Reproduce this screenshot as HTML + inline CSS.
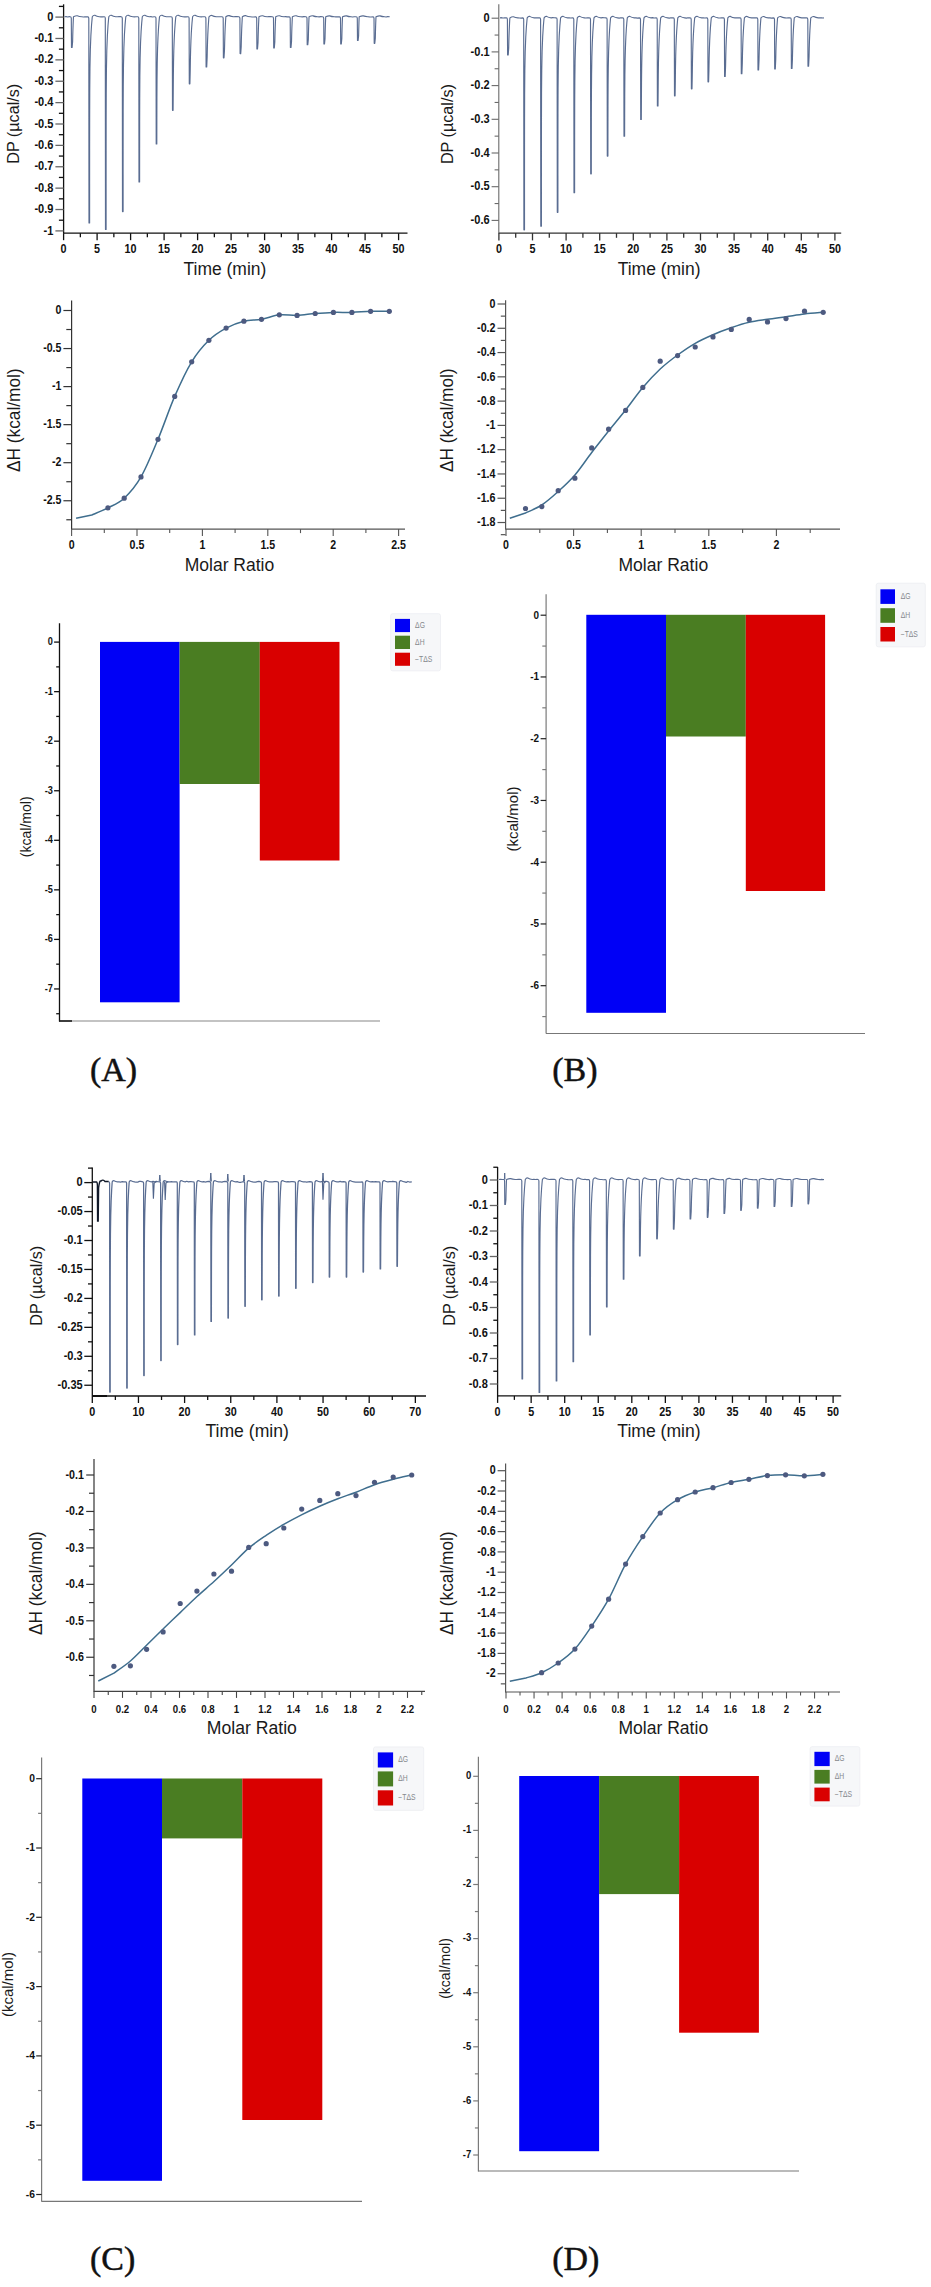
<!DOCTYPE html>
<html><head><meta charset="utf-8"><title>ITC thermodynamic profiles</title>
<style>
html,body{margin:0;padding:0;background:#fff;}
body{width:931px;height:2287px;overflow:hidden;font-family:"Liberation Sans", sans-serif;}
svg{display:block;}
svg text{font-family:"Liberation Sans", sans-serif;}
</style></head>
<body>
<svg width="931" height="2287" viewBox="0 0 931 2287">
<rect width="931" height="2287" fill="#ffffff"/>
<g>
<line x1="63.6" y1="4.3" x2="63.6" y2="233.5" stroke="#111" stroke-width="1.3"/>
<line x1="55.4" y1="17.1" x2="63.6" y2="17.1" stroke="#666" stroke-width="1.3"/>
<text transform="translate(53.4,20.7) scale(0.92,1)" text-anchor="end" font-size="12" font-weight="bold" fill="#111">0</text>
<line x1="55.4" y1="38.48" x2="63.6" y2="38.48" stroke="#666" stroke-width="1.3"/>
<text transform="translate(53.4,42.08) scale(0.92,1)" text-anchor="end" font-size="12" font-weight="bold" fill="#111">-0.1</text>
<line x1="55.4" y1="59.86" x2="63.6" y2="59.86" stroke="#666" stroke-width="1.3"/>
<text transform="translate(53.4,63.46) scale(0.92,1)" text-anchor="end" font-size="12" font-weight="bold" fill="#111">-0.2</text>
<line x1="55.4" y1="81.24" x2="63.6" y2="81.24" stroke="#666" stroke-width="1.3"/>
<text transform="translate(53.4,84.84) scale(0.92,1)" text-anchor="end" font-size="12" font-weight="bold" fill="#111">-0.3</text>
<line x1="55.4" y1="102.62" x2="63.6" y2="102.62" stroke="#666" stroke-width="1.3"/>
<text transform="translate(53.4,106.22) scale(0.92,1)" text-anchor="end" font-size="12" font-weight="bold" fill="#111">-0.4</text>
<line x1="55.4" y1="124" x2="63.6" y2="124" stroke="#666" stroke-width="1.3"/>
<text transform="translate(53.4,127.6) scale(0.92,1)" text-anchor="end" font-size="12" font-weight="bold" fill="#111">-0.5</text>
<line x1="55.4" y1="145.38" x2="63.6" y2="145.38" stroke="#666" stroke-width="1.3"/>
<text transform="translate(53.4,148.98) scale(0.92,1)" text-anchor="end" font-size="12" font-weight="bold" fill="#111">-0.6</text>
<line x1="55.4" y1="166.76" x2="63.6" y2="166.76" stroke="#666" stroke-width="1.3"/>
<text transform="translate(53.4,170.36) scale(0.92,1)" text-anchor="end" font-size="12" font-weight="bold" fill="#111">-0.7</text>
<line x1="55.4" y1="188.14" x2="63.6" y2="188.14" stroke="#666" stroke-width="1.3"/>
<text transform="translate(53.4,191.74) scale(0.92,1)" text-anchor="end" font-size="12" font-weight="bold" fill="#111">-0.8</text>
<line x1="55.4" y1="209.52" x2="63.6" y2="209.52" stroke="#666" stroke-width="1.3"/>
<text transform="translate(53.4,213.12) scale(0.92,1)" text-anchor="end" font-size="12" font-weight="bold" fill="#111">-0.9</text>
<line x1="55.4" y1="230.9" x2="63.6" y2="230.9" stroke="#666" stroke-width="1.3"/>
<text transform="translate(53.4,234.5) scale(0.92,1)" text-anchor="end" font-size="12" font-weight="bold" fill="#111">-1</text>
<line x1="58.9" y1="6.41" x2="63.6" y2="6.41" stroke="#111" stroke-width="1.3"/>
<line x1="58.9" y1="27.79" x2="63.6" y2="27.79" stroke="#111" stroke-width="1.3"/>
<line x1="58.9" y1="49.17" x2="63.6" y2="49.17" stroke="#111" stroke-width="1.3"/>
<line x1="58.9" y1="70.55" x2="63.6" y2="70.55" stroke="#111" stroke-width="1.3"/>
<line x1="58.9" y1="91.93" x2="63.6" y2="91.93" stroke="#111" stroke-width="1.3"/>
<line x1="58.9" y1="113.31" x2="63.6" y2="113.31" stroke="#111" stroke-width="1.3"/>
<line x1="58.9" y1="134.69" x2="63.6" y2="134.69" stroke="#111" stroke-width="1.3"/>
<line x1="58.9" y1="156.07" x2="63.6" y2="156.07" stroke="#111" stroke-width="1.3"/>
<line x1="58.9" y1="177.45" x2="63.6" y2="177.45" stroke="#111" stroke-width="1.3"/>
<line x1="58.9" y1="198.83" x2="63.6" y2="198.83" stroke="#111" stroke-width="1.3"/>
<line x1="58.9" y1="220.21" x2="63.6" y2="220.21" stroke="#111" stroke-width="1.3"/>
<line x1="63.6" y1="233.2" x2="407.5" y2="233.2" stroke="#111" stroke-width="1.3"/>
<line x1="63.6" y1="233.2" x2="63.6" y2="240.2" stroke="#111" stroke-width="1.3"/>
<text transform="translate(63.6,252.6) scale(0.9,1)" text-anchor="middle" font-size="12" font-weight="bold" fill="#111">0</text>
<line x1="97.1" y1="233.2" x2="97.1" y2="240.2" stroke="#111" stroke-width="1.3"/>
<text transform="translate(97.1,252.6) scale(0.9,1)" text-anchor="middle" font-size="12" font-weight="bold" fill="#111">5</text>
<line x1="130.6" y1="233.2" x2="130.6" y2="240.2" stroke="#111" stroke-width="1.3"/>
<text transform="translate(130.6,252.6) scale(0.9,1)" text-anchor="middle" font-size="12" font-weight="bold" fill="#111">10</text>
<line x1="164.1" y1="233.2" x2="164.1" y2="240.2" stroke="#111" stroke-width="1.3"/>
<text transform="translate(164.1,252.6) scale(0.9,1)" text-anchor="middle" font-size="12" font-weight="bold" fill="#111">15</text>
<line x1="197.6" y1="233.2" x2="197.6" y2="240.2" stroke="#111" stroke-width="1.3"/>
<text transform="translate(197.6,252.6) scale(0.9,1)" text-anchor="middle" font-size="12" font-weight="bold" fill="#111">20</text>
<line x1="231.1" y1="233.2" x2="231.1" y2="240.2" stroke="#111" stroke-width="1.3"/>
<text transform="translate(231.1,252.6) scale(0.9,1)" text-anchor="middle" font-size="12" font-weight="bold" fill="#111">25</text>
<line x1="264.6" y1="233.2" x2="264.6" y2="240.2" stroke="#111" stroke-width="1.3"/>
<text transform="translate(264.6,252.6) scale(0.9,1)" text-anchor="middle" font-size="12" font-weight="bold" fill="#111">30</text>
<line x1="298.1" y1="233.2" x2="298.1" y2="240.2" stroke="#111" stroke-width="1.3"/>
<text transform="translate(298.1,252.6) scale(0.9,1)" text-anchor="middle" font-size="12" font-weight="bold" fill="#111">35</text>
<line x1="331.6" y1="233.2" x2="331.6" y2="240.2" stroke="#111" stroke-width="1.3"/>
<text transform="translate(331.6,252.6) scale(0.9,1)" text-anchor="middle" font-size="12" font-weight="bold" fill="#111">40</text>
<line x1="365.1" y1="233.2" x2="365.1" y2="240.2" stroke="#111" stroke-width="1.3"/>
<text transform="translate(365.1,252.6) scale(0.9,1)" text-anchor="middle" font-size="12" font-weight="bold" fill="#111">45</text>
<line x1="398.6" y1="233.2" x2="398.6" y2="240.2" stroke="#111" stroke-width="1.3"/>
<text transform="translate(398.6,252.6) scale(0.9,1)" text-anchor="middle" font-size="12" font-weight="bold" fill="#111">50</text>
<line x1="80.35" y1="233.2" x2="80.35" y2="237.2" stroke="#111" stroke-width="1.3"/>
<line x1="113.85" y1="233.2" x2="113.85" y2="237.2" stroke="#111" stroke-width="1.3"/>
<line x1="147.35" y1="233.2" x2="147.35" y2="237.2" stroke="#111" stroke-width="1.3"/>
<line x1="180.85" y1="233.2" x2="180.85" y2="237.2" stroke="#111" stroke-width="1.3"/>
<line x1="214.35" y1="233.2" x2="214.35" y2="237.2" stroke="#111" stroke-width="1.3"/>
<line x1="247.85" y1="233.2" x2="247.85" y2="237.2" stroke="#111" stroke-width="1.3"/>
<line x1="281.35" y1="233.2" x2="281.35" y2="237.2" stroke="#111" stroke-width="1.3"/>
<line x1="314.85" y1="233.2" x2="314.85" y2="237.2" stroke="#111" stroke-width="1.3"/>
<line x1="348.35" y1="233.2" x2="348.35" y2="237.2" stroke="#111" stroke-width="1.3"/>
<line x1="381.85" y1="233.2" x2="381.85" y2="237.2" stroke="#111" stroke-width="1.3"/>
<text transform="translate(19.3,123.8) rotate(-90)" text-anchor="middle" font-size="17.2" fill="#1a1a1a" textLength="80" lengthAdjust="spacingAndGlyphs">DP (µcal/s)</text>
<text x="224.9" y="274.7" text-anchor="middle" font-size="18" fill="#1a1a1a" textLength="82.8" lengthAdjust="spacingAndGlyphs">Time (min)</text>
<path d="M64.5,16.8 L66.1,16.69 L67.7,16.95 L69.3,16.68 L70.4,16.8 Q71.2,16.8 71.3,18.4 L71.5,47.4 L72.1,47.4 L72.61,41.59 L72.73,36.38 L72.86,31.79 L72.99,27.82 L73.11,24.45 L73.23,21.7 L73.33,19.55 L73.41,18.02 L73.46,17.11 L73.48,16.8 Q75.9,15.54 77.3,15.79 Q79.3,16.6 81.8,16.8 L83.4,16.97 L85,16.8 L86.6,16.84 L87.9,16.8 Q88.7,16.8 88.8,18.4 L89,223 L89.6,223 L89.6,183.82 L89.61,148.77 L89.65,117.84 L89.74,91.03 L89.94,68.35 L90.32,49.79 L90.89,35.36 L91.54,25.05 L92.09,18.86 L92.3,16.8 Q93.4,14.9 94.8,15.28 Q96.8,16.6 99.3,16.8 L100.9,16.91 L102.5,16.81 L104.4,16.8 Q105.2,16.8 105.3,18.4 L105.5,229.5 L106.1,229.5 L106.1,189.09 L106.11,152.93 L106.14,121.02 L106.23,93.37 L106.42,69.97 L106.79,50.83 L107.36,35.94 L108.02,25.31 L108.58,18.93 L108.8,16.8 Q109.9,14.9 111.3,15.28 Q113.3,16.6 115.8,16.8 L117.4,16.72 L119,16.68 L120.6,16.63 L121.4,16.8 Q122.2,16.8 122.3,18.4 L122.5,211.6 L123.1,211.6 L123.1,174.59 L123.12,141.47 L123.16,112.25 L123.26,86.93 L123.48,65.5 L123.88,47.97 L124.44,34.33 L125.08,24.59 L125.6,18.75 L125.8,16.8 Q126.9,14.9 128.3,15.28 Q130.3,16.6 132.8,16.8 L134.4,16.9 L136,16.78 L137.9,16.8 Q138.7,16.8 138.8,18.4 L139,181.9 L139.6,181.9 L139.61,150.53 L139.64,122.46 L139.71,97.7 L139.85,76.24 L140.12,58.08 L140.54,43.22 L141.09,31.66 L141.67,23.4 L142.13,18.45 L142.3,16.8 Q143.4,14.9 144.8,15.28 Q146.8,16.6 149.3,16.8 L150.9,16.66 L152.5,16.95 L154.1,16.71 L155.1,16.8 Q155.9,16.8 156,18.4 L156.2,144 L156.8,144 L156.84,119.83 L156.9,98.21 L157.02,79.13 L157.23,62.59 L157.56,48.6 L158,37.15 L158.51,28.25 L159,21.89 L159.37,18.07 L159.5,16.8 Q160.6,14.9 162,15.28 Q164,16.6 166.5,16.8 L168.1,16.77 L169.7,16.72 L171.4,16.8 Q172.2,16.8 172.3,18.4 L172.5,110.3 L173.1,110.3 L173.23,92.53 L173.35,76.64 L173.53,62.61 L173.8,50.46 L174.16,40.17 L174.58,31.76 L175.03,25.22 L175.42,20.54 L175.7,17.73 L175.8,16.8 Q176.9,14.9 178.3,15.28 Q180.3,16.6 182.8,16.8 L184.4,16.85 L186,16.83 L188.2,16.8 Q189,16.8 189.1,18.4 L189.3,83.8 L189.9,83.8 L190.21,71.07 L190.39,59.68 L190.63,49.63 L190.93,40.92 L191.28,33.55 L191.66,27.52 L192.02,22.83 L192.33,19.48 L192.53,17.47 L192.6,16.8 Q193.7,14.9 195.1,15.28 Q197.1,16.6 199.6,16.8 L201.2,16.84 L202.8,16.71 L205,16.8 Q205.8,16.8 205.9,18.4 L206.1,67 L206.7,67 L207.14,57.46 L207.32,48.93 L207.54,41.4 L207.8,34.87 L208.07,29.35 L208.34,24.83 L208.59,21.32 L208.78,18.81 L208.91,17.3 L208.96,16.8 Q210.5,15.11 211.9,15.45 Q213.9,16.6 216.4,16.8 L218,16.71 L219.6,16.7 L221.2,16.73 L222.3,16.8 Q223.1,16.8 223.2,18.4 L223.4,57.8 L224,57.8 L224.49,50.01 L224.65,43.04 L224.83,36.89 L225.02,31.56 L225.22,27.05 L225.42,23.36 L225.59,20.49 L225.73,18.44 L225.81,17.21 L225.84,16.8 Q227.8,15.31 229.2,15.61 Q231.2,16.6 233.7,16.8 L235.3,16.66 L236.9,16.67 L239,16.8 Q239.8,16.8 239.9,18.4 L240.1,53.6 L240.7,53.6 L241.2,46.61 L241.35,40.35 L241.51,34.83 L241.67,30.05 L241.85,26 L242.01,22.69 L242.15,20.11 L242.26,18.27 L242.33,17.17 L242.36,16.8 Q244.5,15.4 245.9,15.68 Q247.9,16.6 250.4,16.8 L252,16.99 L253.6,16.98 L255.8,16.8 Q256.6,16.8 256.7,18.4 L256.9,48.9 L257.5,48.9 L258.01,42.8 L258.14,37.34 L258.27,32.53 L258.41,28.36 L258.55,24.82 L258.68,21.94 L258.79,19.69 L258.87,18.08 L258.93,17.12 L258.94,16.8 Q261.3,15.5 262.7,15.76 Q264.7,16.6 267.2,16.8 L268.8,16.68 L270.4,16.61 L272.6,16.8 Q273.4,16.8 273.5,18.4 L273.7,48 L274.3,48 L274.81,42.07 L274.93,36.77 L275.06,32.09 L275.2,28.03 L275.33,24.6 L275.45,21.79 L275.55,19.61 L275.64,18.05 L275.69,17.11 L275.7,16.8 Q278.1,15.52 279.5,15.78 Q281.5,16.6 284,16.8 L285.6,16.68 L287.2,16.88 L289.3,16.8 Q290.1,16.8 290.2,18.4 L290.4,47.5 L291,47.5 L291.51,41.67 L291.63,36.45 L291.76,31.84 L291.89,27.85 L292.02,24.48 L292.14,21.71 L292.24,19.56 L292.32,18.03 L292.36,17.11 L292.38,16.8 Q294.8,15.53 296.2,15.79 Q298.2,16.6 300.7,16.8 L302.3,16.91 L303.9,16.61 L306.1,16.8 Q306.9,16.8 307,18.4 L307.2,44.7 L307.8,44.7 L308.31,39.4 L308.41,34.66 L308.53,30.47 L308.64,26.84 L308.75,23.78 L308.85,21.26 L308.94,19.31 L309,17.92 L309.04,17.08 L309.06,16.8 Q311.6,15.6 313,15.84 Q315,16.6 317.5,16.8 L319.1,16.83 L320.7,16.6 L322.8,16.8 Q323.6,16.8 323.7,18.4 L323.9,43.9 L324.5,43.9 L325.01,38.75 L325.11,34.14 L325.22,30.08 L325.33,26.56 L325.43,23.57 L325.53,21.14 L325.61,19.24 L325.67,17.88 L325.71,17.07 L325.72,16.8 Q328.3,15.61 329.7,15.85 Q331.7,16.6 334.2,16.8 L335.8,16.81 L337.4,16.86 L339.6,16.8 Q340.4,16.8 340.5,18.4 L340.7,43.9 L341.3,43.9 L341.81,38.75 L341.91,34.14 L342.02,30.08 L342.13,26.56 L342.23,23.57 L342.33,21.14 L342.41,19.24 L342.47,17.88 L342.51,17.07 L342.52,16.8 Q345.1,15.61 346.5,15.85 Q348.5,16.6 351,16.8 L352.6,16.99 L354.2,16.7 L356.4,16.8 Q357.2,16.8 357.3,18.4 L357.5,40.5 L358.1,40.5 L358.59,36 L358.68,31.97 L358.77,28.41 L358.86,25.33 L358.94,22.73 L359.02,20.59 L359.08,18.93 L359.13,17.75 L359.16,17.04 L359.17,16.8 Q361.9,15.69 363.3,15.91 Q365.3,16.6 367.8,16.8 L369.4,16.92 L371,16.95 L373.1,16.8 Q373.9,16.8 374,18.4 L374.2,43.3 L374.8,43.3 L375.31,38.27 L375.41,33.76 L375.51,29.78 L375.61,26.34 L375.71,23.43 L375.81,21.04 L375.88,19.19 L375.94,17.86 L375.98,17.07 L375.99,16.8 Q378.6,15.63 380,15.86 Q382,16.6 384.5,16.8 L386.1,16.97 L387.7,16.6 L389.7,16.8" fill="none" stroke="#5a6d92" stroke-width="1.15" stroke-linejoin="round"/>
</g>
<g>
<line x1="498.8" y1="4.3" x2="498.8" y2="233" stroke="#6a6a6a" stroke-width="1.1"/>
<line x1="491.6" y1="18.2" x2="498.8" y2="18.2" stroke="#6a6a6a" stroke-width="1.1"/>
<text transform="translate(489.6,21.8) scale(0.92,1)" text-anchor="end" font-size="12" font-weight="bold" fill="#111">0</text>
<line x1="491.6" y1="51.9" x2="498.8" y2="51.9" stroke="#6a6a6a" stroke-width="1.1"/>
<text transform="translate(489.6,55.5) scale(0.92,1)" text-anchor="end" font-size="12" font-weight="bold" fill="#111">-0.1</text>
<line x1="491.6" y1="85.6" x2="498.8" y2="85.6" stroke="#6a6a6a" stroke-width="1.1"/>
<text transform="translate(489.6,89.2) scale(0.92,1)" text-anchor="end" font-size="12" font-weight="bold" fill="#111">-0.2</text>
<line x1="491.6" y1="119.3" x2="498.8" y2="119.3" stroke="#6a6a6a" stroke-width="1.1"/>
<text transform="translate(489.6,122.9) scale(0.92,1)" text-anchor="end" font-size="12" font-weight="bold" fill="#111">-0.3</text>
<line x1="491.6" y1="153" x2="498.8" y2="153" stroke="#6a6a6a" stroke-width="1.1"/>
<text transform="translate(489.6,156.6) scale(0.92,1)" text-anchor="end" font-size="12" font-weight="bold" fill="#111">-0.4</text>
<line x1="491.6" y1="186.7" x2="498.8" y2="186.7" stroke="#6a6a6a" stroke-width="1.1"/>
<text transform="translate(489.6,190.3) scale(0.92,1)" text-anchor="end" font-size="12" font-weight="bold" fill="#111">-0.5</text>
<line x1="491.6" y1="220.4" x2="498.8" y2="220.4" stroke="#6a6a6a" stroke-width="1.1"/>
<text transform="translate(489.6,224) scale(0.92,1)" text-anchor="end" font-size="12" font-weight="bold" fill="#111">-0.6</text>
<line x1="494.6" y1="35.05" x2="498.8" y2="35.05" stroke="#6a6a6a" stroke-width="1.1"/>
<line x1="494.6" y1="68.75" x2="498.8" y2="68.75" stroke="#6a6a6a" stroke-width="1.1"/>
<line x1="494.6" y1="102.45" x2="498.8" y2="102.45" stroke="#6a6a6a" stroke-width="1.1"/>
<line x1="494.6" y1="136.15" x2="498.8" y2="136.15" stroke="#6a6a6a" stroke-width="1.1"/>
<line x1="494.6" y1="169.85" x2="498.8" y2="169.85" stroke="#6a6a6a" stroke-width="1.1"/>
<line x1="494.6" y1="203.55" x2="498.8" y2="203.55" stroke="#6a6a6a" stroke-width="1.1"/>
<line x1="498.8" y1="233.1" x2="841.2" y2="233.1" stroke="#333" stroke-width="1.3"/>
<line x1="498.9" y1="233.1" x2="498.9" y2="240.4" stroke="#333" stroke-width="1.3"/>
<text transform="translate(498.9,252.5) scale(0.9,1)" text-anchor="middle" font-size="12" font-weight="bold" fill="#111">0</text>
<line x1="532.5" y1="233.1" x2="532.5" y2="240.4" stroke="#333" stroke-width="1.3"/>
<text transform="translate(532.5,252.5) scale(0.9,1)" text-anchor="middle" font-size="12" font-weight="bold" fill="#111">5</text>
<line x1="566.1" y1="233.1" x2="566.1" y2="240.4" stroke="#333" stroke-width="1.3"/>
<text transform="translate(566.1,252.5) scale(0.9,1)" text-anchor="middle" font-size="12" font-weight="bold" fill="#111">10</text>
<line x1="599.7" y1="233.1" x2="599.7" y2="240.4" stroke="#333" stroke-width="1.3"/>
<text transform="translate(599.7,252.5) scale(0.9,1)" text-anchor="middle" font-size="12" font-weight="bold" fill="#111">15</text>
<line x1="633.3" y1="233.1" x2="633.3" y2="240.4" stroke="#333" stroke-width="1.3"/>
<text transform="translate(633.3,252.5) scale(0.9,1)" text-anchor="middle" font-size="12" font-weight="bold" fill="#111">20</text>
<line x1="666.9" y1="233.1" x2="666.9" y2="240.4" stroke="#333" stroke-width="1.3"/>
<text transform="translate(666.9,252.5) scale(0.9,1)" text-anchor="middle" font-size="12" font-weight="bold" fill="#111">25</text>
<line x1="700.5" y1="233.1" x2="700.5" y2="240.4" stroke="#333" stroke-width="1.3"/>
<text transform="translate(700.5,252.5) scale(0.9,1)" text-anchor="middle" font-size="12" font-weight="bold" fill="#111">30</text>
<line x1="734.1" y1="233.1" x2="734.1" y2="240.4" stroke="#333" stroke-width="1.3"/>
<text transform="translate(734.1,252.5) scale(0.9,1)" text-anchor="middle" font-size="12" font-weight="bold" fill="#111">35</text>
<line x1="767.7" y1="233.1" x2="767.7" y2="240.4" stroke="#333" stroke-width="1.3"/>
<text transform="translate(767.7,252.5) scale(0.9,1)" text-anchor="middle" font-size="12" font-weight="bold" fill="#111">40</text>
<line x1="801.3" y1="233.1" x2="801.3" y2="240.4" stroke="#333" stroke-width="1.3"/>
<text transform="translate(801.3,252.5) scale(0.9,1)" text-anchor="middle" font-size="12" font-weight="bold" fill="#111">45</text>
<line x1="834.9" y1="233.1" x2="834.9" y2="240.4" stroke="#333" stroke-width="1.3"/>
<text transform="translate(834.9,252.5) scale(0.9,1)" text-anchor="middle" font-size="12" font-weight="bold" fill="#111">50</text>
<line x1="515.7" y1="233.1" x2="515.7" y2="237.8" stroke="#333" stroke-width="1.3"/>
<line x1="549.3" y1="233.1" x2="549.3" y2="237.8" stroke="#333" stroke-width="1.3"/>
<line x1="582.9" y1="233.1" x2="582.9" y2="237.8" stroke="#333" stroke-width="1.3"/>
<line x1="616.5" y1="233.1" x2="616.5" y2="237.8" stroke="#333" stroke-width="1.3"/>
<line x1="650.1" y1="233.1" x2="650.1" y2="237.8" stroke="#333" stroke-width="1.3"/>
<line x1="683.7" y1="233.1" x2="683.7" y2="237.8" stroke="#333" stroke-width="1.3"/>
<line x1="717.3" y1="233.1" x2="717.3" y2="237.8" stroke="#333" stroke-width="1.3"/>
<line x1="750.9" y1="233.1" x2="750.9" y2="237.8" stroke="#333" stroke-width="1.3"/>
<line x1="784.5" y1="233.1" x2="784.5" y2="237.8" stroke="#333" stroke-width="1.3"/>
<line x1="818.1" y1="233.1" x2="818.1" y2="237.8" stroke="#333" stroke-width="1.3"/>
<text transform="translate(453.2,124.1) rotate(-90)" text-anchor="middle" font-size="17.2" fill="#1a1a1a" textLength="80" lengthAdjust="spacingAndGlyphs">DP (µcal/s)</text>
<text x="659.1" y="274.6" text-anchor="middle" font-size="18" fill="#1a1a1a" textLength="82.9" lengthAdjust="spacingAndGlyphs">Time (min)</text>
<path d="M500,17.9 L501.6,17.69 L503.2,18.04 L504.8,17.87 L506.5,17.9 Q507.3,17.9 507.4,19.5 L507.6,55 L508.2,55 L508.7,47.95 L508.85,41.64 L509.01,36.08 L509.18,31.26 L509.35,27.17 L509.52,23.84 L509.66,21.24 L509.77,19.38 L509.84,18.27 L509.87,17.9 Q512,16.5 513.4,16.78 Q515.4,17.7 517.9,17.9 L519.5,18.01 L521.1,18.14 L522.8,17.9 Q523.6,17.9 523.7,19.5 L523.9,229.8 L524.5,229.8 L524.5,189.54 L524.51,153.52 L524.54,121.73 L524.63,94.18 L524.82,70.88 L525.2,51.8 L525.76,36.97 L526.42,26.38 L526.98,20.02 L527.2,17.9 Q528.3,16 529.7,16.38 Q531.7,17.7 534.2,17.9 L535.8,17.92 L537.4,17.9 L539.7,17.9 Q540.5,17.9 540.6,19.5 L540.8,226.2 L541.4,226.2 L541.4,186.62 L541.41,151.21 L541.45,119.97 L541.53,92.89 L541.74,69.97 L542.11,51.23 L542.68,36.65 L543.33,26.23 L543.88,19.98 L544.1,17.9 Q545.2,16 546.6,16.38 Q548.6,17.7 551.1,17.9 L552.7,17.69 L554.3,17.78 L556.2,17.9 Q557,17.9 557.1,19.5 L557.3,212.3 L557.9,212.3 L557.9,175.36 L557.92,142.32 L557.96,113.16 L558.06,87.88 L558.29,66.5 L558.68,49 L559.24,35.4 L559.88,25.68 L560.4,19.84 L560.6,17.9 Q561.7,16 563.1,16.38 Q565.1,17.7 567.6,17.9 L569.2,17.9 L570.8,17.99 L572.9,17.9 Q573.7,17.9 573.8,19.5 L574,192.7 L574.6,192.7 L574.61,159.49 L574.63,129.77 L574.69,103.55 L574.82,80.83 L575.07,61.6 L575.48,45.87 L576.04,33.63 L576.64,24.89 L577.12,19.65 L577.3,17.9 Q578.4,16 579.8,16.38 Q581.8,17.7 584.3,17.9 L585.9,18.05 L587.5,17.84 L589.6,17.9 Q590.4,17.9 590.5,19.5 L590.7,173.8 L591.3,173.8 L591.32,144.18 L591.35,117.68 L591.43,94.29 L591.59,74.02 L591.87,56.88 L592.3,42.84 L592.84,31.93 L593.4,24.14 L593.84,19.46 L594,17.9 Q595.1,16 596.5,16.38 Q598.5,17.7 601,17.9 L602.6,17.68 L604.2,17.79 L606.2,17.9 Q607,17.9 607.1,19.5 L607.3,156.1 L607.9,156.1 L607.93,129.84 L607.98,106.35 L608.08,85.62 L608.27,67.65 L608.58,52.45 L609.01,40.01 L609.54,30.34 L610.06,23.43 L610.45,19.28 L610.6,17.9 Q611.7,16 613.1,16.38 Q615.1,17.7 617.6,17.9 L619.2,18.1 L620.8,17.76 L622.9,17.9 Q623.7,17.9 623.8,19.5 L624,136.2 L624.6,136.2 L624.66,113.72 L624.73,93.61 L624.87,75.87 L625.09,60.49 L625.43,47.47 L625.87,36.83 L626.36,28.55 L626.83,22.63 L627.18,19.08 L627.3,17.9 Q628.4,16 629.8,16.38 Q631.8,17.7 634.3,17.9 L635.9,17.88 L637.5,18.12 L639.6,17.9 Q640.4,17.9 640.5,19.5 L640.7,119.5 L641.3,119.5 L641.4,100.2 L641.5,82.92 L641.67,67.68 L641.93,54.48 L642.28,43.3 L642.71,34.16 L643.17,27.04 L643.59,21.96 L643.89,18.92 L644,17.9 Q645.1,16 646.5,16.38 Q648.5,17.7 651,17.9 L652.6,17.66 L654.2,17.95 L656.3,17.9 Q657.1,17.9 657.2,19.5 L657.4,106 L658,106 L658.16,89.26 L658.28,74.28 L658.48,61.07 L658.76,49.62 L659.12,39.92 L659.54,32 L659.97,25.83 L660.35,21.42 L660.61,18.78 L660.7,17.9 Q661.8,16 663.2,16.38 Q665.2,17.7 667.7,17.9 L669.3,18.13 L670.9,17.77 L672.5,17.92 L673.4,17.9 Q674.2,17.9 674.3,19.5 L674.5,95.8 L675.1,95.8 L675.32,81 L675.47,67.76 L675.69,56.07 L675.98,45.94 L676.34,37.38 L676.74,30.36 L677.14,24.91 L677.48,21.02 L677.72,18.68 L677.8,17.9 Q678.9,16 680.3,16.38 Q682.3,17.7 684.8,17.9 L686.4,18.1 L688,17.72 L690.3,17.9 Q691.1,17.9 691.2,19.5 L691.4,88.8 L692,88.8 L692.27,75.33 L692.44,63.28 L692.67,52.64 L692.97,43.42 L693.33,35.62 L693.72,29.24 L694.09,24.28 L694.41,20.74 L694.62,18.61 L694.7,17.9 Q695.8,16 697.2,16.38 Q699.2,17.7 701.7,17.9 L703.3,17.91 L704.9,18.03 L706.9,17.9 Q707.7,17.9 707.8,19.5 L708,81.8 L708.6,81.8 L708.94,69.66 L709.13,58.8 L709.37,49.21 L709.68,40.9 L710.03,33.88 L710.39,28.12 L710.75,23.65 L711.04,20.46 L711.23,18.54 L711.3,17.9 Q712.4,16 713.8,16.38 Q715.8,17.7 718.3,17.9 L719.9,17.98 L721.5,17.88 L723.5,17.9 Q724.3,17.9 724.4,19.5 L724.6,76.4 L725.2,76.4 L725.6,65.29 L725.79,55.34 L726.04,46.56 L726.33,38.96 L726.67,32.52 L727.01,27.26 L727.33,23.16 L727.6,20.24 L727.77,18.48 L727.83,17.9 Q729,16.03 730.4,16.41 Q732.4,17.7 734.9,17.9 L736.5,17.75 L738.1,17.9 L740.2,17.9 Q741,17.9 741.1,19.5 L741.3,73.7 L741.9,73.7 L742.31,63.1 L742.5,53.61 L742.74,45.24 L743.02,37.99 L743.34,31.85 L743.66,26.83 L743.95,22.92 L744.2,20.13 L744.36,18.46 L744.41,17.9 Q745.7,16.09 747.1,16.45 Q749.1,17.7 751.6,17.9 L753.2,17.84 L754.8,17.89 L756.9,17.9 Q757.7,17.9 757.8,19.5 L758,70 L758.6,70 L759.03,60.1 L759.22,51.24 L759.44,43.43 L759.71,36.66 L759.99,30.92 L760.28,26.24 L760.54,22.59 L760.76,19.98 L760.9,18.42 L760.94,17.9 Q762.4,16.17 763.8,16.52 Q765.8,17.7 768.3,17.9 L769.9,17.83 L771.5,18.07 L773.6,17.9 Q774.4,17.9 774.5,19.5 L774.7,68.9 L775.3,68.9 L775.74,59.21 L775.92,50.54 L776.14,42.89 L776.4,36.26 L776.68,30.65 L776.96,26.06 L777.21,22.49 L777.42,19.94 L777.55,18.41 L777.6,17.9 Q779.1,16.2 780.5,16.54 Q782.5,17.7 785,17.9 L786.6,18.03 L788.2,17.81 L790.3,17.9 Q791.1,17.9 791.2,19.5 L791.4,68.4 L792,68.4 L792.44,58.81 L792.62,50.22 L792.84,42.64 L793.1,36.08 L793.37,30.52 L793.64,25.98 L793.89,22.45 L794.1,19.92 L794.23,18.4 L794.27,17.9 Q795.8,16.21 797.2,16.54 Q799.2,17.7 801.7,17.9 L803.3,17.94 L804.9,17.79 L806.9,17.9 Q807.7,17.9 807.8,19.5 L808,66.2 L808.6,66.2 L809.05,57.02 L809.23,48.81 L809.44,41.57 L809.68,35.29 L809.94,29.98 L810.2,25.63 L810.43,22.25 L810.61,19.83 L810.73,18.38 L810.77,17.9 Q812.4,16.25 813.8,16.58 Q815.8,17.7 818.3,17.9 L819.9,17.88 L821.5,17.83 L823.1,17.98 L824,17.9" fill="none" stroke="#5a6d92" stroke-width="1.15" stroke-linejoin="round"/>
</g>
<g>
<line x1="71.6" y1="300.5" x2="71.6" y2="529.6" stroke="#333" stroke-width="1.2"/>
<line x1="63.4" y1="310.5" x2="71.6" y2="310.5" stroke="#333" stroke-width="1.2"/>
<text transform="translate(61.4,314.2) scale(0.86,1)" text-anchor="end" font-size="12.3" font-weight="bold" fill="#111">0</text>
<line x1="63.4" y1="348.55" x2="71.6" y2="348.55" stroke="#333" stroke-width="1.2"/>
<text transform="translate(61.4,352.25) scale(0.86,1)" text-anchor="end" font-size="12.3" font-weight="bold" fill="#111">-0.5</text>
<line x1="63.4" y1="386.6" x2="71.6" y2="386.6" stroke="#333" stroke-width="1.2"/>
<text transform="translate(61.4,390.3) scale(0.86,1)" text-anchor="end" font-size="12.3" font-weight="bold" fill="#111">-1</text>
<line x1="63.4" y1="424.65" x2="71.6" y2="424.65" stroke="#333" stroke-width="1.2"/>
<text transform="translate(61.4,428.35) scale(0.86,1)" text-anchor="end" font-size="12.3" font-weight="bold" fill="#111">-1.5</text>
<line x1="63.4" y1="462.7" x2="71.6" y2="462.7" stroke="#333" stroke-width="1.2"/>
<text transform="translate(61.4,466.4) scale(0.86,1)" text-anchor="end" font-size="12.3" font-weight="bold" fill="#111">-2</text>
<line x1="63.4" y1="500.75" x2="71.6" y2="500.75" stroke="#333" stroke-width="1.2"/>
<text transform="translate(61.4,504.45) scale(0.86,1)" text-anchor="end" font-size="12.3" font-weight="bold" fill="#111">-2.5</text>
<line x1="66.3" y1="329.52" x2="71.6" y2="329.52" stroke="#333" stroke-width="1.2"/>
<line x1="66.3" y1="367.57" x2="71.6" y2="367.57" stroke="#333" stroke-width="1.2"/>
<line x1="66.3" y1="405.62" x2="71.6" y2="405.62" stroke="#333" stroke-width="1.2"/>
<line x1="66.3" y1="443.67" x2="71.6" y2="443.67" stroke="#333" stroke-width="1.2"/>
<line x1="66.3" y1="481.73" x2="71.6" y2="481.73" stroke="#333" stroke-width="1.2"/>
<line x1="66.3" y1="519.77" x2="71.6" y2="519.77" stroke="#333" stroke-width="1.2"/>
<line x1="71.6" y1="529.1" x2="405" y2="529.1" stroke="#555" stroke-width="1.1"/>
<line x1="71.6" y1="529.1" x2="71.6" y2="536.1" stroke="#555" stroke-width="1.1"/>
<text transform="translate(71.6,549.3) scale(0.85,1)" text-anchor="middle" font-size="12.5" font-weight="bold" fill="#111">0</text>
<line x1="137" y1="529.1" x2="137" y2="536.1" stroke="#555" stroke-width="1.1"/>
<text transform="translate(137,549.3) scale(0.85,1)" text-anchor="middle" font-size="12.5" font-weight="bold" fill="#111">0.5</text>
<line x1="202.4" y1="529.1" x2="202.4" y2="536.1" stroke="#555" stroke-width="1.1"/>
<text transform="translate(202.4,549.3) scale(0.85,1)" text-anchor="middle" font-size="12.5" font-weight="bold" fill="#111">1</text>
<line x1="267.8" y1="529.1" x2="267.8" y2="536.1" stroke="#555" stroke-width="1.1"/>
<text transform="translate(267.8,549.3) scale(0.85,1)" text-anchor="middle" font-size="12.5" font-weight="bold" fill="#111">1.5</text>
<line x1="333.2" y1="529.1" x2="333.2" y2="536.1" stroke="#555" stroke-width="1.1"/>
<text transform="translate(333.2,549.3) scale(0.85,1)" text-anchor="middle" font-size="12.5" font-weight="bold" fill="#111">2</text>
<line x1="398.6" y1="529.1" x2="398.6" y2="536.1" stroke="#555" stroke-width="1.1"/>
<text transform="translate(398.6,549.3) scale(0.85,1)" text-anchor="middle" font-size="12.5" font-weight="bold" fill="#111">2.5</text>
<line x1="104.3" y1="529.1" x2="104.3" y2="533.1" stroke="#555" stroke-width="1.1"/>
<line x1="169.7" y1="529.1" x2="169.7" y2="533.1" stroke="#555" stroke-width="1.1"/>
<line x1="235.1" y1="529.1" x2="235.1" y2="533.1" stroke="#555" stroke-width="1.1"/>
<line x1="300.5" y1="529.1" x2="300.5" y2="533.1" stroke="#555" stroke-width="1.1"/>
<line x1="365.9" y1="529.1" x2="365.9" y2="533.1" stroke="#555" stroke-width="1.1"/>
<text transform="translate(19.5,420.2) rotate(-90)" text-anchor="middle" font-size="17.6" fill="#1a1a1a" textLength="103.5" lengthAdjust="spacingAndGlyphs">ΔH (kcal/mol)</text>
<text x="229.45" y="571" text-anchor="middle" font-size="18.3" fill="#1a1a1a" textLength="89.6" lengthAdjust="spacingAndGlyphs">Molar Ratio</text>
<path d="M76.1,518.2 L91.8,515 C94.48,513.82 102.5,510.7 107.9,507.9 C113.3,505.1 118.68,503.37 124.2,498.2 C129.72,493.03 135.37,486.72 141,476.9 C146.63,467.08 152.38,452.72 158,439.3 C163.62,425.88 169.08,409.32 174.7,396.4 C180.32,383.48 186,371.15 191.7,361.8 C197.4,352.45 203.17,345.92 208.9,340.3 C214.63,334.68 220.27,331.28 226.1,328.1 C231.93,324.92 238,322.67 243.9,321.2 C249.8,319.73 255.6,320.37 261.5,319.3 C267.4,318.23 273.37,315.45 279.3,314.8 C285.23,314.15 291.12,315.62 297.1,315.4 C303.08,315.18 309.15,314 315.2,313.5 C321.25,313 327.28,312.58 333.4,312.4 C339.52,312.22 345.7,312.58 351.9,312.4 C358.1,312.22 364.37,311.48 370.6,311.3 C376.83,311.12 386.18,311.3 389.3,311.3" fill="none" stroke="#3f6e8e" stroke-width="1.5" stroke-linejoin="round"/>
<circle cx="107.9" cy="507.9" r="2.6" fill="#4d5a80"/>
<circle cx="124.2" cy="498.2" r="2.6" fill="#4d5a80"/>
<circle cx="141" cy="476.9" r="2.6" fill="#4d5a80"/>
<circle cx="158" cy="439.3" r="2.6" fill="#4d5a80"/>
<circle cx="174.7" cy="396.4" r="2.6" fill="#4d5a80"/>
<circle cx="191.7" cy="361.8" r="2.6" fill="#4d5a80"/>
<circle cx="208.9" cy="340.3" r="2.6" fill="#4d5a80"/>
<circle cx="226.1" cy="328.1" r="2.6" fill="#4d5a80"/>
<circle cx="243.9" cy="321.2" r="2.6" fill="#4d5a80"/>
<circle cx="261.5" cy="319.3" r="2.6" fill="#4d5a80"/>
<circle cx="279.3" cy="314.8" r="2.6" fill="#4d5a80"/>
<circle cx="297.1" cy="315.4" r="2.6" fill="#4d5a80"/>
<circle cx="315.2" cy="313.5" r="2.6" fill="#4d5a80"/>
<circle cx="333.4" cy="312.4" r="2.6" fill="#4d5a80"/>
<circle cx="351.9" cy="312.4" r="2.6" fill="#4d5a80"/>
<circle cx="370.6" cy="311.3" r="2.6" fill="#4d5a80"/>
<circle cx="389.3" cy="311.3" r="2.6" fill="#4d5a80"/>
</g>
<g>
<line x1="505.6" y1="300.3" x2="505.6" y2="529.6" stroke="#555" stroke-width="1.2"/>
<line x1="497.5" y1="304" x2="505.6" y2="304" stroke="#555" stroke-width="1.2"/>
<text transform="translate(495.5,307.7) scale(0.87,1)" text-anchor="end" font-size="12.3" font-weight="bold" fill="#111">0</text>
<line x1="497.5" y1="328.28" x2="505.6" y2="328.28" stroke="#555" stroke-width="1.2"/>
<text transform="translate(495.5,331.98) scale(0.87,1)" text-anchor="end" font-size="12.3" font-weight="bold" fill="#111">-0.2</text>
<line x1="497.5" y1="352.56" x2="505.6" y2="352.56" stroke="#555" stroke-width="1.2"/>
<text transform="translate(495.5,356.26) scale(0.87,1)" text-anchor="end" font-size="12.3" font-weight="bold" fill="#111">-0.4</text>
<line x1="497.5" y1="376.84" x2="505.6" y2="376.84" stroke="#555" stroke-width="1.2"/>
<text transform="translate(495.5,380.54) scale(0.87,1)" text-anchor="end" font-size="12.3" font-weight="bold" fill="#111">-0.6</text>
<line x1="497.5" y1="401.12" x2="505.6" y2="401.12" stroke="#555" stroke-width="1.2"/>
<text transform="translate(495.5,404.82) scale(0.87,1)" text-anchor="end" font-size="12.3" font-weight="bold" fill="#111">-0.8</text>
<line x1="497.5" y1="425.4" x2="505.6" y2="425.4" stroke="#555" stroke-width="1.2"/>
<text transform="translate(495.5,429.1) scale(0.87,1)" text-anchor="end" font-size="12.3" font-weight="bold" fill="#111">-1</text>
<line x1="497.5" y1="449.68" x2="505.6" y2="449.68" stroke="#555" stroke-width="1.2"/>
<text transform="translate(495.5,453.38) scale(0.87,1)" text-anchor="end" font-size="12.3" font-weight="bold" fill="#111">-1.2</text>
<line x1="497.5" y1="473.96" x2="505.6" y2="473.96" stroke="#555" stroke-width="1.2"/>
<text transform="translate(495.5,477.66) scale(0.87,1)" text-anchor="end" font-size="12.3" font-weight="bold" fill="#111">-1.4</text>
<line x1="497.5" y1="498.24" x2="505.6" y2="498.24" stroke="#555" stroke-width="1.2"/>
<text transform="translate(495.5,501.94) scale(0.87,1)" text-anchor="end" font-size="12.3" font-weight="bold" fill="#111">-1.6</text>
<line x1="497.5" y1="522.52" x2="505.6" y2="522.52" stroke="#555" stroke-width="1.2"/>
<text transform="translate(495.5,526.22) scale(0.87,1)" text-anchor="end" font-size="12.3" font-weight="bold" fill="#111">-1.8</text>
<line x1="500.8" y1="316.14" x2="505.6" y2="316.14" stroke="#555" stroke-width="1.2"/>
<line x1="500.8" y1="340.42" x2="505.6" y2="340.42" stroke="#555" stroke-width="1.2"/>
<line x1="500.8" y1="364.7" x2="505.6" y2="364.7" stroke="#555" stroke-width="1.2"/>
<line x1="500.8" y1="388.98" x2="505.6" y2="388.98" stroke="#555" stroke-width="1.2"/>
<line x1="500.8" y1="413.26" x2="505.6" y2="413.26" stroke="#555" stroke-width="1.2"/>
<line x1="500.8" y1="437.54" x2="505.6" y2="437.54" stroke="#555" stroke-width="1.2"/>
<line x1="500.8" y1="461.82" x2="505.6" y2="461.82" stroke="#555" stroke-width="1.2"/>
<line x1="500.8" y1="486.1" x2="505.6" y2="486.1" stroke="#555" stroke-width="1.2"/>
<line x1="500.8" y1="510.38" x2="505.6" y2="510.38" stroke="#555" stroke-width="1.2"/>
<line x1="500.8" y1="534.66" x2="505.6" y2="534.66" stroke="#555" stroke-width="1.2"/>
<line x1="505.6" y1="529.1" x2="840" y2="529.1" stroke="#555" stroke-width="1.1"/>
<line x1="506" y1="529.1" x2="506" y2="536.1" stroke="#555" stroke-width="1.1"/>
<text transform="translate(506,549.3) scale(0.85,1)" text-anchor="middle" font-size="12.5" font-weight="bold" fill="#111">0</text>
<line x1="573.6" y1="529.1" x2="573.6" y2="536.1" stroke="#555" stroke-width="1.1"/>
<text transform="translate(573.6,549.3) scale(0.85,1)" text-anchor="middle" font-size="12.5" font-weight="bold" fill="#111">0.5</text>
<line x1="641.2" y1="529.1" x2="641.2" y2="536.1" stroke="#555" stroke-width="1.1"/>
<text transform="translate(641.2,549.3) scale(0.85,1)" text-anchor="middle" font-size="12.5" font-weight="bold" fill="#111">1</text>
<line x1="708.8" y1="529.1" x2="708.8" y2="536.1" stroke="#555" stroke-width="1.1"/>
<text transform="translate(708.8,549.3) scale(0.85,1)" text-anchor="middle" font-size="12.5" font-weight="bold" fill="#111">1.5</text>
<line x1="776.4" y1="529.1" x2="776.4" y2="536.1" stroke="#555" stroke-width="1.1"/>
<text transform="translate(776.4,549.3) scale(0.85,1)" text-anchor="middle" font-size="12.5" font-weight="bold" fill="#111">2</text>
<line x1="539.8" y1="529.1" x2="539.8" y2="533.1" stroke="#555" stroke-width="1.1"/>
<line x1="607.4" y1="529.1" x2="607.4" y2="533.1" stroke="#555" stroke-width="1.1"/>
<line x1="675" y1="529.1" x2="675" y2="533.1" stroke="#555" stroke-width="1.1"/>
<line x1="742.6" y1="529.1" x2="742.6" y2="533.1" stroke="#555" stroke-width="1.1"/>
<line x1="810.2" y1="529.1" x2="810.2" y2="533.1" stroke="#555" stroke-width="1.1"/>
<text transform="translate(453.3,420.2) rotate(-90)" text-anchor="middle" font-size="17.6" fill="#1a1a1a" textLength="103.5" lengthAdjust="spacingAndGlyphs">ΔH (kcal/mol)</text>
<text x="663.3" y="570.8" text-anchor="middle" font-size="18.3" fill="#1a1a1a" textLength="89.7" lengthAdjust="spacingAndGlyphs">Molar Ratio</text>
<path d="M509.8,518.2 L525.5,513 C528.22,511.67 536.35,508.58 541.8,505 C547.25,501.42 552.68,496.5 558.2,491.5 C563.72,486.5 569.32,481.5 574.9,475 C580.48,468.5 586.08,459.83 591.7,452.5 C597.32,445.17 602.95,438.08 608.6,431 C614.25,423.92 619.9,417.25 625.6,410 C631.3,402.75 637.03,394.33 642.8,387.5 C648.57,380.67 654.4,374.42 660.2,369 C666,363.58 671.77,359.28 677.6,355 C683.43,350.72 689.3,346.68 695.2,343.3 C701.1,339.92 707.02,337.28 713,334.7 C718.98,332.12 725.1,329.87 731.1,327.8 C737.1,325.73 742.93,323.72 749,322.3 C755.07,320.88 761.33,320.23 767.5,319.3 C773.67,318.37 779.83,317.58 786,316.7 C792.17,315.82 798.3,314.73 804.5,314 C810.7,313.27 820.08,312.58 823.2,312.3" fill="none" stroke="#3f6e8e" stroke-width="1.5" stroke-linejoin="round"/>
<circle cx="525.5" cy="508.5" r="2.6" fill="#4d5a80"/>
<circle cx="541.8" cy="506.6" r="2.6" fill="#4d5a80"/>
<circle cx="558.2" cy="490.7" r="2.6" fill="#4d5a80"/>
<circle cx="574.9" cy="478.2" r="2.6" fill="#4d5a80"/>
<circle cx="591.7" cy="447.9" r="2.6" fill="#4d5a80"/>
<circle cx="608.6" cy="429.2" r="2.6" fill="#4d5a80"/>
<circle cx="625.6" cy="410.4" r="2.6" fill="#4d5a80"/>
<circle cx="642.8" cy="387.4" r="2.6" fill="#4d5a80"/>
<circle cx="660.2" cy="361.2" r="2.6" fill="#4d5a80"/>
<circle cx="677.6" cy="355.6" r="2.6" fill="#4d5a80"/>
<circle cx="695.2" cy="347" r="2.6" fill="#4d5a80"/>
<circle cx="713" cy="336.9" r="2.6" fill="#4d5a80"/>
<circle cx="731.3" cy="329.4" r="2.6" fill="#4d5a80"/>
<circle cx="749.2" cy="319.4" r="2.6" fill="#4d5a80"/>
<circle cx="767.5" cy="321.9" r="2.6" fill="#4d5a80"/>
<circle cx="786" cy="318.6" r="2.6" fill="#4d5a80"/>
<circle cx="804.5" cy="311.2" r="2.6" fill="#4d5a80"/>
<circle cx="823.2" cy="312.3" r="2.6" fill="#4d5a80"/>
</g>
<g>
<line x1="59.5" y1="623.2" x2="59.5" y2="1021.5" stroke="#111" stroke-width="1.3"/>
<line x1="54.1" y1="642.1" x2="59.5" y2="642.1" stroke="#111" stroke-width="1.3"/>
<text transform="translate(52.9,644.98) scale(0.92,1)" text-anchor="end" font-size="10" font-weight="bold" fill="#111">0</text>
<line x1="54.1" y1="691.65" x2="59.5" y2="691.65" stroke="#111" stroke-width="1.3"/>
<text transform="translate(52.9,694.53) scale(0.92,1)" text-anchor="end" font-size="10" font-weight="bold" fill="#111">-1</text>
<line x1="54.1" y1="741.2" x2="59.5" y2="741.2" stroke="#111" stroke-width="1.3"/>
<text transform="translate(52.9,744.08) scale(0.92,1)" text-anchor="end" font-size="10" font-weight="bold" fill="#111">-2</text>
<line x1="54.1" y1="790.75" x2="59.5" y2="790.75" stroke="#111" stroke-width="1.3"/>
<text transform="translate(52.9,793.63) scale(0.92,1)" text-anchor="end" font-size="10" font-weight="bold" fill="#111">-3</text>
<line x1="54.1" y1="840.3" x2="59.5" y2="840.3" stroke="#111" stroke-width="1.3"/>
<text transform="translate(52.9,843.18) scale(0.92,1)" text-anchor="end" font-size="10" font-weight="bold" fill="#111">-4</text>
<line x1="54.1" y1="889.85" x2="59.5" y2="889.85" stroke="#111" stroke-width="1.3"/>
<text transform="translate(52.9,892.73) scale(0.92,1)" text-anchor="end" font-size="10" font-weight="bold" fill="#111">-5</text>
<line x1="54.1" y1="939.4" x2="59.5" y2="939.4" stroke="#111" stroke-width="1.3"/>
<text transform="translate(52.9,942.28) scale(0.92,1)" text-anchor="end" font-size="10" font-weight="bold" fill="#111">-6</text>
<line x1="54.1" y1="988.95" x2="59.5" y2="988.95" stroke="#111" stroke-width="1.3"/>
<text transform="translate(52.9,991.83) scale(0.92,1)" text-anchor="end" font-size="10" font-weight="bold" fill="#111">-7</text>
<line x1="56.2" y1="666.88" x2="59.5" y2="666.88" stroke="#111" stroke-width="1.3"/>
<line x1="56.2" y1="716.42" x2="59.5" y2="716.42" stroke="#111" stroke-width="1.3"/>
<line x1="56.2" y1="765.98" x2="59.5" y2="765.98" stroke="#111" stroke-width="1.3"/>
<line x1="56.2" y1="815.52" x2="59.5" y2="815.52" stroke="#111" stroke-width="1.3"/>
<line x1="56.2" y1="865.08" x2="59.5" y2="865.08" stroke="#111" stroke-width="1.3"/>
<line x1="56.2" y1="914.62" x2="59.5" y2="914.62" stroke="#111" stroke-width="1.3"/>
<line x1="56.2" y1="964.17" x2="59.5" y2="964.17" stroke="#111" stroke-width="1.3"/>
<line x1="56.2" y1="1013.73" x2="59.5" y2="1013.73" stroke="#111" stroke-width="1.3"/>
<line x1="59.5" y1="1021" x2="380" y2="1021" stroke="#888" stroke-width="1.2"/>
<line x1="59" y1="1021" x2="72" y2="1021" stroke="#111" stroke-width="1.5"/>
<rect x="100" y="641.9" width="79.6" height="360.4" fill="#0000f6"/>
<rect x="179.6" y="641.9" width="80.2" height="142.1" fill="#4a7d22"/>
<rect x="259.8" y="641.9" width="79.7" height="218.6" fill="#d90000"/>
<rect x="390.7" y="613.7" width="49.8" height="57.1" rx="2" fill="#f6f7f9" stroke="#eceef1" stroke-width="0.8"/>
<rect x="395" y="618.9" width="15" height="13.2" fill="#0000f6"/>
<text transform="translate(415.1,627.79) scale(0.8,1)" font-size="8.5" fill="#85888d">ΔG</text>
<rect x="395" y="635.7" width="15" height="13.3" fill="#4a7d22"/>
<text transform="translate(415.1,644.64) scale(0.8,1)" font-size="8.5" fill="#85888d">ΔH</text>
<rect x="395" y="652.7" width="15" height="13.1" fill="#d90000"/>
<text transform="translate(415.1,661.54) scale(0.8,1)" font-size="8.5" fill="#85888d">−TΔS</text>
<text transform="translate(31.3,826.8) rotate(-90)" text-anchor="middle" font-size="14" fill="#1a1a1a">(kcal/mol)</text>
<text x="89.9" y="1081" style='font-family:"Liberation Serif", serif' font-size="34" fill="#111" stroke="#111" stroke-width="0.45">(A)</text>
</g>
<g>
<line x1="546.1" y1="594.3" x2="546.1" y2="1033.5" stroke="#7a7a7a" stroke-width="1.2"/>
<line x1="540.6" y1="615.2" x2="546.1" y2="615.2" stroke="#222" stroke-width="1.2"/>
<text transform="translate(539,618.55) scale(0.88,1)" text-anchor="end" font-size="11.3" font-weight="bold" fill="#111">0</text>
<line x1="540.6" y1="676.95" x2="546.1" y2="676.95" stroke="#222" stroke-width="1.2"/>
<text transform="translate(539,680.3) scale(0.88,1)" text-anchor="end" font-size="11.3" font-weight="bold" fill="#111">-1</text>
<line x1="540.6" y1="738.7" x2="546.1" y2="738.7" stroke="#222" stroke-width="1.2"/>
<text transform="translate(539,742.05) scale(0.88,1)" text-anchor="end" font-size="11.3" font-weight="bold" fill="#111">-2</text>
<line x1="540.6" y1="800.45" x2="546.1" y2="800.45" stroke="#222" stroke-width="1.2"/>
<text transform="translate(539,803.8) scale(0.88,1)" text-anchor="end" font-size="11.3" font-weight="bold" fill="#111">-3</text>
<line x1="540.6" y1="862.2" x2="546.1" y2="862.2" stroke="#222" stroke-width="1.2"/>
<text transform="translate(539,865.55) scale(0.88,1)" text-anchor="end" font-size="11.3" font-weight="bold" fill="#111">-4</text>
<line x1="540.6" y1="923.95" x2="546.1" y2="923.95" stroke="#222" stroke-width="1.2"/>
<text transform="translate(539,927.3) scale(0.88,1)" text-anchor="end" font-size="11.3" font-weight="bold" fill="#111">-5</text>
<line x1="540.6" y1="985.7" x2="546.1" y2="985.7" stroke="#222" stroke-width="1.2"/>
<text transform="translate(539,989.05) scale(0.88,1)" text-anchor="end" font-size="11.3" font-weight="bold" fill="#111">-6</text>
<line x1="542.3" y1="646.08" x2="546.1" y2="646.08" stroke="#7a7a7a" stroke-width="1.2"/>
<line x1="542.3" y1="707.83" x2="546.1" y2="707.83" stroke="#7a7a7a" stroke-width="1.2"/>
<line x1="542.3" y1="769.58" x2="546.1" y2="769.58" stroke="#7a7a7a" stroke-width="1.2"/>
<line x1="542.3" y1="831.33" x2="546.1" y2="831.33" stroke="#7a7a7a" stroke-width="1.2"/>
<line x1="542.3" y1="893.08" x2="546.1" y2="893.08" stroke="#7a7a7a" stroke-width="1.2"/>
<line x1="542.3" y1="954.83" x2="546.1" y2="954.83" stroke="#7a7a7a" stroke-width="1.2"/>
<line x1="542.3" y1="1016.58" x2="546.1" y2="1016.58" stroke="#7a7a7a" stroke-width="1.2"/>
<line x1="546" y1="1033.5" x2="865" y2="1033.5" stroke="#777" stroke-width="1.2"/>
<rect x="586.3" y="614.8" width="79.7" height="398" fill="#0000f6"/>
<rect x="666" y="614.8" width="79.8" height="121.7" fill="#4a7d22"/>
<rect x="745.8" y="614.8" width="79.3" height="276.2" fill="#d90000"/>
<rect x="876.2" y="583.2" width="49.1" height="63.6" rx="2" fill="#f6f7f9" stroke="#eceef1" stroke-width="0.8"/>
<rect x="880.4" y="589.3" width="14.6" height="14.6" fill="#0000f6"/>
<text transform="translate(900.7,598.89) scale(0.8,1)" font-size="8.5" fill="#85888d">ΔG</text>
<rect x="880.4" y="608.2" width="14.6" height="14.6" fill="#4a7d22"/>
<text transform="translate(900.7,617.79) scale(0.8,1)" font-size="8.5" fill="#85888d">ΔH</text>
<rect x="880.4" y="627" width="14.6" height="14.5" fill="#d90000"/>
<text transform="translate(900.7,636.54) scale(0.8,1)" font-size="8.5" fill="#85888d">−TΔS</text>
<text transform="translate(518.2,819) rotate(-90)" text-anchor="middle" font-size="15" fill="#1a1a1a">(kcal/mol)</text>
<text x="552.3" y="1080.6" style='font-family:"Liberation Serif", serif' font-size="34" fill="#111" stroke="#111" stroke-width="0.45">(B)</text>
</g>
<g>
<line x1="92.3" y1="1167.5" x2="92.3" y2="1396" stroke="#111" stroke-width="1.3"/>
<line x1="84.3" y1="1182.6" x2="92.3" y2="1182.6" stroke="#111" stroke-width="1.3"/>
<text transform="translate(82.7,1186.2) scale(0.92,1)" text-anchor="end" font-size="12" font-weight="bold" fill="#111">0</text>
<line x1="84.3" y1="1211.55" x2="92.3" y2="1211.55" stroke="#111" stroke-width="1.3"/>
<text transform="translate(82.7,1215.15) scale(0.92,1)" text-anchor="end" font-size="12" font-weight="bold" fill="#111">-0.05</text>
<line x1="84.3" y1="1240.5" x2="92.3" y2="1240.5" stroke="#111" stroke-width="1.3"/>
<text transform="translate(82.7,1244.1) scale(0.92,1)" text-anchor="end" font-size="12" font-weight="bold" fill="#111">-0.1</text>
<line x1="84.3" y1="1269.45" x2="92.3" y2="1269.45" stroke="#111" stroke-width="1.3"/>
<text transform="translate(82.7,1273.05) scale(0.92,1)" text-anchor="end" font-size="12" font-weight="bold" fill="#111">-0.15</text>
<line x1="84.3" y1="1298.4" x2="92.3" y2="1298.4" stroke="#111" stroke-width="1.3"/>
<text transform="translate(82.7,1302) scale(0.92,1)" text-anchor="end" font-size="12" font-weight="bold" fill="#111">-0.2</text>
<line x1="84.3" y1="1327.35" x2="92.3" y2="1327.35" stroke="#111" stroke-width="1.3"/>
<text transform="translate(82.7,1330.95) scale(0.92,1)" text-anchor="end" font-size="12" font-weight="bold" fill="#111">-0.25</text>
<line x1="84.3" y1="1356.3" x2="92.3" y2="1356.3" stroke="#111" stroke-width="1.3"/>
<text transform="translate(82.7,1359.9) scale(0.92,1)" text-anchor="end" font-size="12" font-weight="bold" fill="#111">-0.3</text>
<line x1="84.3" y1="1385.25" x2="92.3" y2="1385.25" stroke="#111" stroke-width="1.3"/>
<text transform="translate(82.7,1388.85) scale(0.92,1)" text-anchor="end" font-size="12" font-weight="bold" fill="#111">-0.35</text>
<line x1="88" y1="1168.12" x2="92.3" y2="1168.12" stroke="#111" stroke-width="1.3"/>
<line x1="88" y1="1197.07" x2="92.3" y2="1197.07" stroke="#111" stroke-width="1.3"/>
<line x1="88" y1="1226.02" x2="92.3" y2="1226.02" stroke="#111" stroke-width="1.3"/>
<line x1="88" y1="1254.97" x2="92.3" y2="1254.97" stroke="#111" stroke-width="1.3"/>
<line x1="88" y1="1283.92" x2="92.3" y2="1283.92" stroke="#111" stroke-width="1.3"/>
<line x1="88" y1="1312.88" x2="92.3" y2="1312.88" stroke="#111" stroke-width="1.3"/>
<line x1="88" y1="1341.82" x2="92.3" y2="1341.82" stroke="#111" stroke-width="1.3"/>
<line x1="88" y1="1370.77" x2="92.3" y2="1370.77" stroke="#111" stroke-width="1.3"/>
<line x1="92.3" y1="1396" x2="426" y2="1396" stroke="#111" stroke-width="1.3"/>
<line x1="92.3" y1="1396" x2="92.3" y2="1403" stroke="#111" stroke-width="1.3"/>
<text transform="translate(92.3,1416) scale(0.9,1)" text-anchor="middle" font-size="12" font-weight="bold" fill="#111">0</text>
<line x1="138.45" y1="1396" x2="138.45" y2="1403" stroke="#111" stroke-width="1.3"/>
<text transform="translate(138.45,1416) scale(0.9,1)" text-anchor="middle" font-size="12" font-weight="bold" fill="#111">10</text>
<line x1="184.6" y1="1396" x2="184.6" y2="1403" stroke="#111" stroke-width="1.3"/>
<text transform="translate(184.6,1416) scale(0.9,1)" text-anchor="middle" font-size="12" font-weight="bold" fill="#111">20</text>
<line x1="230.75" y1="1396" x2="230.75" y2="1403" stroke="#111" stroke-width="1.3"/>
<text transform="translate(230.75,1416) scale(0.9,1)" text-anchor="middle" font-size="12" font-weight="bold" fill="#111">30</text>
<line x1="276.9" y1="1396" x2="276.9" y2="1403" stroke="#111" stroke-width="1.3"/>
<text transform="translate(276.9,1416) scale(0.9,1)" text-anchor="middle" font-size="12" font-weight="bold" fill="#111">40</text>
<line x1="323.05" y1="1396" x2="323.05" y2="1403" stroke="#111" stroke-width="1.3"/>
<text transform="translate(323.05,1416) scale(0.9,1)" text-anchor="middle" font-size="12" font-weight="bold" fill="#111">50</text>
<line x1="369.2" y1="1396" x2="369.2" y2="1403" stroke="#111" stroke-width="1.3"/>
<text transform="translate(369.2,1416) scale(0.9,1)" text-anchor="middle" font-size="12" font-weight="bold" fill="#111">60</text>
<line x1="415.35" y1="1396" x2="415.35" y2="1403" stroke="#111" stroke-width="1.3"/>
<text transform="translate(415.35,1416) scale(0.9,1)" text-anchor="middle" font-size="12" font-weight="bold" fill="#111">70</text>
<line x1="115.38" y1="1396" x2="115.38" y2="1400" stroke="#111" stroke-width="1.3"/>
<line x1="161.53" y1="1396" x2="161.53" y2="1400" stroke="#111" stroke-width="1.3"/>
<line x1="207.68" y1="1396" x2="207.68" y2="1400" stroke="#111" stroke-width="1.3"/>
<line x1="253.82" y1="1396" x2="253.82" y2="1400" stroke="#111" stroke-width="1.3"/>
<line x1="299.98" y1="1396" x2="299.98" y2="1400" stroke="#111" stroke-width="1.3"/>
<line x1="346.12" y1="1396" x2="346.12" y2="1400" stroke="#111" stroke-width="1.3"/>
<line x1="392.28" y1="1396" x2="392.28" y2="1400" stroke="#111" stroke-width="1.3"/>
<line x1="92.3" y1="1396" x2="107" y2="1396" stroke="#111" stroke-width="2"/>
<text transform="translate(42.2,1285.8) rotate(-90)" text-anchor="middle" font-size="17.2" fill="#1a1a1a" textLength="80" lengthAdjust="spacingAndGlyphs">DP (µcal/s)</text>
<text x="247.15" y="1437.4" text-anchor="middle" font-size="18" fill="#1a1a1a" textLength="83.4" lengthAdjust="spacingAndGlyphs">Time (min)</text>
<path d="M108.7,1181.8 L108.92,1181.8 Q109.52,1181.8 109.6,1183.4 L109.75,1392 L110.2,1392 L110.2,1352.06 L110.21,1316.33 L110.23,1284.8 L110.3,1257.47 L110.45,1234.35 L110.73,1215.43 L111.15,1200.72 L111.65,1190.21 L112.06,1183.9 L112.22,1181.8 Q113.05,1180.47 114.1,1180.74 Q115.6,1181.6 117.47,1181.8 L119.07,1181.86 L120.67,1182.03 L122.27,1181.57 L123.87,1181.81 L125.92,1181.8 Q126.52,1181.8 126.6,1183.4 L126.75,1388 L127.2,1388 L127.2,1348.82 L127.21,1313.77 L127.24,1282.84 L127.3,1256.03 L127.46,1233.35 L127.74,1214.79 L128.16,1200.36 L128.66,1190.05 L129.06,1183.86 L129.22,1181.8 Q130.05,1180.47 131.1,1180.74 Q132.6,1181.6 134.47,1181.8 L136.07,1182.23 L137.67,1182.24 L139.27,1181.39 L140.87,1181.48 L142.92,1181.8 Q143.53,1181.8 143.6,1183.4 L143.75,1375.5 L144.2,1375.5 L144.2,1338.7 L144.21,1305.77 L144.25,1276.71 L144.32,1251.53 L144.49,1230.22 L144.79,1212.79 L145.21,1199.23 L145.69,1189.55 L146.07,1183.74 L146.22,1181.8 Q147.05,1180.47 148.1,1180.74 Q149.6,1181.6 151.47,1181.8 L153.07,1181.31 L154.67,1181.73 L156.27,1181.28 L157.87,1181.75 L159.92,1181.8 Q160.53,1181.8 160.6,1183.4 L160.75,1360.5 L161.2,1360.5 L161.21,1326.55 L161.22,1296.17 L161.26,1269.36 L161.35,1246.13 L161.54,1226.47 L161.85,1210.39 L162.26,1197.88 L162.72,1188.95 L163.09,1183.59 L163.22,1181.8 Q164.05,1180.47 165.1,1180.74 Q166.6,1181.6 168.47,1181.8 L170.07,1181.96 L171.67,1181.56 L173.27,1181.99 L174.87,1181.9 L176.62,1181.8 Q177.23,1181.8 177.3,1183.4 L177.45,1344.6 L177.9,1344.6 L177.91,1313.67 L177.93,1285.99 L177.98,1261.57 L178.09,1240.41 L178.3,1222.5 L178.61,1207.85 L179.03,1196.45 L179.46,1188.31 L179.8,1183.43 L179.93,1181.8 Q180.75,1180.47 181.8,1180.74 Q183.3,1181.6 185.18,1181.8 L186.78,1181.28 L188.38,1181.86 L189.97,1181.54 L191.57,1181.71 L193.62,1181.8 Q194.23,1181.8 194.3,1183.4 L194.45,1334.9 L194.9,1334.9 L194.91,1305.81 L194.94,1279.78 L195,1256.82 L195.12,1236.92 L195.34,1220.08 L195.66,1206.3 L196.07,1195.58 L196.49,1187.92 L196.8,1183.33 L196.93,1181.8 Q197.75,1180.47 198.8,1180.74 Q200.3,1181.6 202.18,1181.8 L203.78,1181.56 L205.38,1182.01 L206.97,1181.73 L208.57,1181.42 L210.12,1181.8 Q210.73,1181.8 210.8,1183.4 L210.95,1321.4 L211.4,1321.4 L211.42,1294.88 L211.46,1271.14 L211.53,1250.2 L211.67,1232.06 L211.9,1216.7 L212.23,1204.14 L212.63,1194.36 L213.02,1187.38 L213.32,1183.2 L213.43,1181.8 Q214.25,1180.47 215.3,1180.74 Q216.8,1181.6 218.68,1181.8 L220.28,1181.85 L221.88,1182.11 L223.47,1181.59 L225.07,1181.49 L227.12,1181.8 Q227.73,1181.8 227.8,1183.4 L227.95,1318 L228.4,1318 L228.42,1292.12 L228.46,1268.97 L228.54,1248.54 L228.68,1230.83 L228.92,1215.85 L229.25,1203.59 L229.64,1194.06 L230.03,1187.25 L230.32,1183.16 L230.43,1181.8 Q231.25,1180.47 232.3,1180.74 Q233.8,1181.6 235.68,1181.8 L237.28,1181.68 L238.88,1182.28 L240.47,1182.32 L242.07,1181.99 L244.02,1181.8 Q244.62,1181.8 244.7,1183.4 L244.85,1306.3 L245.3,1306.3 L245.34,1282.64 L245.38,1261.48 L245.48,1242.8 L245.64,1226.62 L245.88,1212.92 L246.21,1201.72 L246.59,1193 L246.96,1186.78 L247.23,1183.04 L247.32,1181.8 Q248.15,1180.47 249.2,1180.74 Q250.7,1181.6 252.57,1181.8 L254.17,1182.24 L255.77,1182.18 L257.38,1181.67 L258.98,1181.35 L260.82,1181.8 Q261.43,1181.8 261.5,1183.4 L261.65,1299.8 L262.1,1299.8 L262.14,1277.38 L262.2,1257.32 L262.3,1239.62 L262.47,1224.28 L262.72,1211.3 L263.05,1200.68 L263.42,1192.42 L263.78,1186.52 L264.03,1182.98 L264.12,1181.8 Q264.95,1180.47 266,1180.74 Q267.5,1181.6 269.38,1181.8 L270.98,1181.97 L272.58,1181.86 L274.18,1181.65 L275.78,1181.5 L277.82,1181.8 Q278.43,1181.8 278.5,1183.4 L278.65,1296.1 L279.1,1296.1 L279.15,1274.38 L279.21,1254.95 L279.32,1237.81 L279.49,1222.95 L279.75,1210.38 L280.07,1200.09 L280.44,1192.09 L280.79,1186.37 L281.03,1182.94 L281.12,1181.8 Q281.95,1180.47 283,1180.74 Q284.5,1181.6 286.38,1181.8 L287.98,1181.7 L289.58,1181.77 L291.18,1181.55 L292.78,1181.57 L294.82,1181.8 Q295.43,1181.8 295.5,1183.4 L295.65,1288.3 L296.1,1288.3 L296.16,1268.07 L296.23,1249.96 L296.35,1233.98 L296.54,1220.14 L296.8,1208.42 L297.12,1198.84 L297.48,1191.38 L297.81,1186.06 L298.04,1182.87 L298.12,1181.8 Q298.95,1180.47 300,1180.74 Q301.5,1181.6 303.38,1181.8 L304.98,1181.75 L306.58,1182.2 L308.18,1181.89 L309.78,1181.56 L311.72,1181.8 Q312.32,1181.8 312.4,1183.4 L312.55,1282.5 L313,1282.5 L313.08,1263.37 L313.15,1246.25 L313.28,1231.14 L313.47,1218.05 L313.74,1206.97 L314.06,1197.91 L314.41,1190.86 L314.72,1185.83 L314.95,1182.81 L315.02,1181.8 Q315.85,1180.47 316.9,1180.74 Q318.4,1181.6 320.27,1181.8 L321.88,1181.56 L323.48,1181.75 L325.08,1181.48 L326.68,1181.47 L328.43,1181.8 Q329.03,1181.8 329.1,1183.4 L329.25,1277.1 L329.7,1277.1 L329.79,1258.99 L329.88,1242.79 L330.01,1228.5 L330.21,1216.11 L330.48,1205.62 L330.8,1197.05 L331.14,1190.38 L331.44,1185.61 L331.65,1182.75 L331.73,1181.8 Q332.55,1180.47 333.6,1180.74 Q335.1,1181.6 336.98,1181.8 L338.58,1181.82 L340.18,1181.35 L341.78,1181.78 L343.38,1181.65 L345.43,1181.8 Q346.03,1181.8 346.1,1183.4 L346.25,1277.1 L346.7,1277.1 L346.79,1258.99 L346.88,1242.79 L347.01,1228.5 L347.21,1216.11 L347.48,1205.62 L347.8,1197.05 L348.14,1190.38 L348.44,1185.61 L348.65,1182.75 L348.73,1181.8 Q349.55,1180.47 350.6,1180.74 Q352.1,1181.6 353.98,1181.8 L355.58,1182.03 L357.18,1182.07 L358.78,1182.01 L360.38,1182.01 L362.22,1181.8 Q362.82,1181.8 362.9,1183.4 L363.05,1272.1 L363.5,1272.1 L363.61,1254.94 L363.7,1239.59 L363.84,1226.05 L364.05,1214.31 L364.32,1204.38 L364.64,1196.25 L364.96,1189.93 L365.25,1185.41 L365.45,1182.7 L365.52,1181.8 Q366.35,1180.47 367.4,1180.74 Q368.9,1181.6 370.77,1181.8 L372.38,1181.66 L373.98,1181.98 L375.58,1181.62 L377.18,1181.88 L379.32,1181.8 Q379.93,1181.8 380,1183.4 L380.15,1268.9 L380.6,1268.9 L380.72,1252.35 L380.82,1237.54 L380.97,1224.48 L381.18,1213.16 L381.45,1203.58 L381.76,1195.74 L382.08,1189.64 L382.36,1185.28 L382.56,1182.67 L382.62,1181.8 Q383.45,1180.47 384.5,1180.74 Q386,1181.6 387.88,1181.8 L389.48,1181.61 L391.08,1181.74 L392.68,1181.32 L394.28,1181.52 L396.12,1181.8 Q396.73,1181.8 396.8,1183.4 L396.95,1266.3 L397.4,1266.3 L397.53,1250.24 L397.63,1235.88 L397.79,1223.2 L398,1212.22 L398.27,1202.92 L398.58,1195.32 L398.89,1189.4 L399.17,1185.18 L399.36,1182.64 L399.43,1181.8 Q400.25,1180.47 401.3,1180.74 Q402.8,1181.6 404.68,1181.8 L406.28,1182.32 L407.88,1181.5 L409.48,1182.01 L411.8,1181.8" fill="none" stroke="#5a6d92" stroke-width="1.25" stroke-linejoin="round"/>
<path d="M93,1182 L96.6,1182 Q97.2,1182 97.4,1185 L97.6,1221 L98.2,1221 L98.6,1188 Q99.5,1180 101,1181 Q103,1179 105,1181.5 L108.7,1181.5" fill="none" stroke="#101828" stroke-width="1.4"/>
<path d="M152.8,1181.5 L153.4,1198.7 L154.2,1183 L156.4,1181.5" fill="none" stroke="#51658b" stroke-width="1.1"/>
<path d="M164.6,1181.5 L165.2,1200 L166,1183 L168.2,1181.5" fill="none" stroke="#51658b" stroke-width="1.1"/>
<path d="M322.4,1181.5 L323,1199.7 L323.8,1183 L326,1181.5" fill="none" stroke="#51658b" stroke-width="1.1"/>
<path d="M159.2,1181.5 L159.8,1175 L160.4,1181.5" fill="none" stroke="#51658b" stroke-width="1"/>
<path d="M210.2,1181.5 L210.8,1173 L211.4,1181.5" fill="none" stroke="#51658b" stroke-width="1"/>
<path d="M227.2,1181.5 L227.8,1174 L228.4,1181.5" fill="none" stroke="#51658b" stroke-width="1"/>
<path d="M243.4,1181.5 L244,1175 L244.6,1181.5" fill="none" stroke="#51658b" stroke-width="1"/>
<path d="M322.4,1181.5 L323,1173 L323.6,1181.5" fill="none" stroke="#51658b" stroke-width="1"/>
</g>
<g>
<line x1="497.6" y1="1166.9" x2="497.6" y2="1396.5" stroke="#111" stroke-width="1.3"/>
<line x1="489.8" y1="1180" x2="497.6" y2="1180" stroke="#666" stroke-width="1.3"/>
<text transform="translate(487.8,1183.6) scale(0.92,1)" text-anchor="end" font-size="12" font-weight="bold" fill="#111">0</text>
<line x1="489.8" y1="1205.5" x2="497.6" y2="1205.5" stroke="#666" stroke-width="1.3"/>
<text transform="translate(487.8,1209.1) scale(0.92,1)" text-anchor="end" font-size="12" font-weight="bold" fill="#111">-0.1</text>
<line x1="489.8" y1="1231" x2="497.6" y2="1231" stroke="#666" stroke-width="1.3"/>
<text transform="translate(487.8,1234.6) scale(0.92,1)" text-anchor="end" font-size="12" font-weight="bold" fill="#111">-0.2</text>
<line x1="489.8" y1="1256.5" x2="497.6" y2="1256.5" stroke="#666" stroke-width="1.3"/>
<text transform="translate(487.8,1260.1) scale(0.92,1)" text-anchor="end" font-size="12" font-weight="bold" fill="#111">-0.3</text>
<line x1="489.8" y1="1282" x2="497.6" y2="1282" stroke="#666" stroke-width="1.3"/>
<text transform="translate(487.8,1285.6) scale(0.92,1)" text-anchor="end" font-size="12" font-weight="bold" fill="#111">-0.4</text>
<line x1="489.8" y1="1307.5" x2="497.6" y2="1307.5" stroke="#666" stroke-width="1.3"/>
<text transform="translate(487.8,1311.1) scale(0.92,1)" text-anchor="end" font-size="12" font-weight="bold" fill="#111">-0.5</text>
<line x1="489.8" y1="1333" x2="497.6" y2="1333" stroke="#666" stroke-width="1.3"/>
<text transform="translate(487.8,1336.6) scale(0.92,1)" text-anchor="end" font-size="12" font-weight="bold" fill="#111">-0.6</text>
<line x1="489.8" y1="1358.5" x2="497.6" y2="1358.5" stroke="#666" stroke-width="1.3"/>
<text transform="translate(487.8,1362.1) scale(0.92,1)" text-anchor="end" font-size="12" font-weight="bold" fill="#111">-0.7</text>
<line x1="489.8" y1="1384" x2="497.6" y2="1384" stroke="#666" stroke-width="1.3"/>
<text transform="translate(487.8,1387.6) scale(0.92,1)" text-anchor="end" font-size="12" font-weight="bold" fill="#111">-0.8</text>
<line x1="493.3" y1="1167.25" x2="497.6" y2="1167.25" stroke="#111" stroke-width="1.3"/>
<line x1="493.3" y1="1192.75" x2="497.6" y2="1192.75" stroke="#111" stroke-width="1.3"/>
<line x1="493.3" y1="1218.25" x2="497.6" y2="1218.25" stroke="#111" stroke-width="1.3"/>
<line x1="493.3" y1="1243.75" x2="497.6" y2="1243.75" stroke="#111" stroke-width="1.3"/>
<line x1="493.3" y1="1269.25" x2="497.6" y2="1269.25" stroke="#111" stroke-width="1.3"/>
<line x1="493.3" y1="1294.75" x2="497.6" y2="1294.75" stroke="#111" stroke-width="1.3"/>
<line x1="493.3" y1="1320.25" x2="497.6" y2="1320.25" stroke="#111" stroke-width="1.3"/>
<line x1="493.3" y1="1345.75" x2="497.6" y2="1345.75" stroke="#111" stroke-width="1.3"/>
<line x1="493.3" y1="1371.25" x2="497.6" y2="1371.25" stroke="#111" stroke-width="1.3"/>
<line x1="497.6" y1="1395.9" x2="841.2" y2="1395.9" stroke="#111" stroke-width="1.3"/>
<line x1="497.6" y1="1395.9" x2="497.6" y2="1402.9" stroke="#111" stroke-width="1.3"/>
<text transform="translate(497.6,1416) scale(0.9,1)" text-anchor="middle" font-size="12" font-weight="bold" fill="#111">0</text>
<line x1="531.15" y1="1395.9" x2="531.15" y2="1402.9" stroke="#111" stroke-width="1.3"/>
<text transform="translate(531.15,1416) scale(0.9,1)" text-anchor="middle" font-size="12" font-weight="bold" fill="#111">5</text>
<line x1="564.7" y1="1395.9" x2="564.7" y2="1402.9" stroke="#111" stroke-width="1.3"/>
<text transform="translate(564.7,1416) scale(0.9,1)" text-anchor="middle" font-size="12" font-weight="bold" fill="#111">10</text>
<line x1="598.25" y1="1395.9" x2="598.25" y2="1402.9" stroke="#111" stroke-width="1.3"/>
<text transform="translate(598.25,1416) scale(0.9,1)" text-anchor="middle" font-size="12" font-weight="bold" fill="#111">15</text>
<line x1="631.8" y1="1395.9" x2="631.8" y2="1402.9" stroke="#111" stroke-width="1.3"/>
<text transform="translate(631.8,1416) scale(0.9,1)" text-anchor="middle" font-size="12" font-weight="bold" fill="#111">20</text>
<line x1="665.35" y1="1395.9" x2="665.35" y2="1402.9" stroke="#111" stroke-width="1.3"/>
<text transform="translate(665.35,1416) scale(0.9,1)" text-anchor="middle" font-size="12" font-weight="bold" fill="#111">25</text>
<line x1="698.9" y1="1395.9" x2="698.9" y2="1402.9" stroke="#111" stroke-width="1.3"/>
<text transform="translate(698.9,1416) scale(0.9,1)" text-anchor="middle" font-size="12" font-weight="bold" fill="#111">30</text>
<line x1="732.45" y1="1395.9" x2="732.45" y2="1402.9" stroke="#111" stroke-width="1.3"/>
<text transform="translate(732.45,1416) scale(0.9,1)" text-anchor="middle" font-size="12" font-weight="bold" fill="#111">35</text>
<line x1="766" y1="1395.9" x2="766" y2="1402.9" stroke="#111" stroke-width="1.3"/>
<text transform="translate(766,1416) scale(0.9,1)" text-anchor="middle" font-size="12" font-weight="bold" fill="#111">40</text>
<line x1="799.55" y1="1395.9" x2="799.55" y2="1402.9" stroke="#111" stroke-width="1.3"/>
<text transform="translate(799.55,1416) scale(0.9,1)" text-anchor="middle" font-size="12" font-weight="bold" fill="#111">45</text>
<line x1="833.1" y1="1395.9" x2="833.1" y2="1402.9" stroke="#111" stroke-width="1.3"/>
<text transform="translate(833.1,1416) scale(0.9,1)" text-anchor="middle" font-size="12" font-weight="bold" fill="#111">50</text>
<line x1="514.38" y1="1395.9" x2="514.38" y2="1399.9" stroke="#111" stroke-width="1.3"/>
<line x1="547.93" y1="1395.9" x2="547.93" y2="1399.9" stroke="#111" stroke-width="1.3"/>
<line x1="581.48" y1="1395.9" x2="581.48" y2="1399.9" stroke="#111" stroke-width="1.3"/>
<line x1="615.02" y1="1395.9" x2="615.02" y2="1399.9" stroke="#111" stroke-width="1.3"/>
<line x1="648.58" y1="1395.9" x2="648.58" y2="1399.9" stroke="#111" stroke-width="1.3"/>
<line x1="682.12" y1="1395.9" x2="682.12" y2="1399.9" stroke="#111" stroke-width="1.3"/>
<line x1="715.67" y1="1395.9" x2="715.67" y2="1399.9" stroke="#111" stroke-width="1.3"/>
<line x1="749.23" y1="1395.9" x2="749.23" y2="1399.9" stroke="#111" stroke-width="1.3"/>
<line x1="782.78" y1="1395.9" x2="782.78" y2="1399.9" stroke="#111" stroke-width="1.3"/>
<line x1="816.33" y1="1395.9" x2="816.33" y2="1399.9" stroke="#111" stroke-width="1.3"/>
<text transform="translate(454.6,1285.8) rotate(-90)" text-anchor="middle" font-size="17.2" fill="#1a1a1a" textLength="80" lengthAdjust="spacingAndGlyphs">DP (µcal/s)</text>
<text x="659" y="1437.3" text-anchor="middle" font-size="18" fill="#1a1a1a" textLength="83.3" lengthAdjust="spacingAndGlyphs">Time (min)</text>
<path d="M499,1179.5 L500.6,1179.26 L502.2,1179.5 L503.7,1179.5 Q504.5,1179.5 504.6,1181.1 L504.8,1204.5 L505.4,1204.5 L505.9,1199.75 L505.99,1195.5 L506.09,1191.75 L506.18,1188.5 L506.28,1185.75 L506.36,1183.5 L506.43,1181.75 L506.48,1180.5 L506.51,1179.75 L506.53,1179.5 Q509.2,1178.36 510.6,1178.59 Q512.6,1179.3 515.1,1179.5 L516.7,1179.5 L518.3,1179.32 L519.9,1179.32 L520.9,1179.5 Q521.7,1179.5 521.8,1181.1 L522,1379 L522.6,1379 L522.6,1341.1 L522.62,1307.18 L522.65,1277.25 L522.75,1251.32 L522.97,1229.38 L523.35,1211.42 L523.92,1197.45 L524.56,1187.48 L525.09,1181.49 L525.3,1179.5 Q526.4,1177.6 527.8,1177.98 Q529.8,1179.3 532.3,1179.5 L533.9,1179.36 L535.5,1179.46 L537.1,1179.37 L538,1179.5 Q538.8,1179.5 538.9,1181.1 L539.1,1392.4 L539.7,1392.4 L539.7,1351.95 L539.71,1315.76 L539.74,1283.82 L539.83,1256.14 L540.02,1232.72 L540.39,1213.56 L540.95,1198.66 L541.62,1188.02 L542.18,1181.63 L542.4,1179.5 Q543.5,1177.6 544.9,1177.98 Q546.9,1179.3 549.4,1179.5 L551,1179.29 L552.6,1179.42 L554.2,1179.33 L555.1,1179.5 Q555.9,1179.5 556,1181.1 L556.2,1381 L556.8,1381 L556.8,1342.71 L556.82,1308.46 L556.85,1278.23 L556.95,1252.04 L557.16,1229.88 L557.54,1211.74 L558.11,1197.63 L558.76,1187.56 L559.29,1181.52 L559.5,1179.5 Q560.6,1177.6 562,1177.98 Q564,1179.3 566.5,1179.5 L568.1,1179.69 L569.7,1179.73 L571.9,1179.5 Q572.7,1179.5 572.8,1181.1 L573,1361.7 L573.6,1361.7 L573.61,1327.08 L573.63,1296.11 L573.68,1268.78 L573.8,1245.09 L574.04,1225.05 L574.44,1208.65 L575,1195.9 L575.62,1186.79 L576.11,1181.32 L576.3,1179.5 Q577.4,1177.6 578.8,1177.98 Q580.8,1179.3 583.3,1179.5 L584.9,1179.27 L586.5,1179.6 L588.7,1179.5 Q589.5,1179.5 589.6,1181.1 L589.8,1335 L590.4,1335 L590.42,1305.45 L590.45,1279.02 L590.53,1255.69 L590.69,1235.48 L590.97,1218.38 L591.4,1204.38 L591.94,1193.49 L592.51,1185.72 L592.94,1181.06 L593.1,1179.5 Q594.2,1177.6 595.6,1177.98 Q597.6,1179.3 600.1,1179.5 L601.7,1179.54 L603.3,1179.7 L605.4,1179.5 Q606.2,1179.5 606.3,1181.1 L606.5,1307 L607.1,1307 L607.14,1282.78 L607.2,1261.1 L607.32,1241.97 L607.53,1225.4 L607.85,1211.38 L608.29,1199.9 L608.81,1190.97 L609.3,1184.6 L609.67,1180.78 L609.8,1179.5 Q610.9,1177.6 612.3,1177.98 Q614.3,1179.3 616.8,1179.5 L618.4,1179.58 L620,1179.52 L622.2,1179.5 Q623,1179.5 623.1,1181.1 L623.3,1279.2 L623.9,1279.2 L624.01,1260.26 L624.11,1243.31 L624.28,1228.35 L624.54,1215.39 L624.9,1204.42 L625.33,1195.45 L625.79,1188.47 L626.2,1183.49 L626.49,1180.5 L626.6,1179.5 Q627.7,1177.6 629.1,1177.98 Q631.1,1179.3 633.6,1179.5 L635.2,1179.6 L636.8,1179.44 L638.4,1179.5 Q639.2,1179.5 639.3,1181.1 L639.5,1256 L640.1,1256 L640.33,1241.46 L640.48,1228.46 L640.7,1216.98 L641,1207.04 L641.36,1198.62 L641.75,1191.74 L642.15,1186.38 L642.49,1182.56 L642.72,1180.27 L642.8,1179.5 Q643.9,1177.6 645.3,1177.98 Q647.3,1179.3 649.8,1179.5 L651.4,1179.6 L653,1179.66 L654.6,1179.48 L655.6,1179.5 Q656.4,1179.5 656.5,1181.1 L656.7,1238.8 L657.3,1238.8 L657.69,1227.53 L657.88,1217.45 L658.13,1208.56 L658.44,1200.85 L658.77,1194.33 L659.13,1188.99 L659.46,1184.84 L659.73,1181.87 L659.91,1180.09 L659.97,1179.5 Q661.1,1177.62 662.5,1177.99 Q664.5,1179.3 667,1179.5 L668.6,1179.72 L670.2,1179.65 L672.3,1179.5 Q673.1,1179.5 673.2,1181.1 L673.4,1229.1 L674,1229.1 L674.45,1219.68 L674.63,1211.24 L674.84,1203.8 L675.09,1197.36 L675.36,1191.9 L675.62,1187.44 L675.87,1183.96 L676.06,1181.48 L676.19,1180 L676.23,1179.5 Q677.8,1177.83 679.2,1178.16 Q681.2,1179.3 683.7,1179.5 L685.3,1179.74 L686.9,1179.33 L689,1179.5 Q689.8,1179.5 689.9,1181.1 L690.1,1218.9 L690.7,1218.9 L691.19,1211.41 L691.35,1204.72 L691.52,1198.81 L691.71,1193.68 L691.9,1189.35 L692.08,1185.8 L692.24,1183.05 L692.36,1181.08 L692.45,1179.89 L692.47,1179.5 Q694.5,1178.05 695.9,1178.34 Q697.9,1179.3 700.4,1179.5 L702,1179.51 L703.6,1179.72 L705.2,1179.57 L706.2,1179.5 Q707,1179.5 707.1,1181.1 L707.3,1217.3 L707.9,1217.3 L708.4,1210.12 L708.55,1203.69 L708.71,1198.02 L708.89,1193.11 L709.07,1188.95 L709.24,1185.55 L709.38,1182.9 L709.5,1181.01 L709.58,1179.88 L709.6,1179.5 Q711.7,1178.08 713.1,1178.36 Q715.1,1179.3 717.6,1179.5 L719.2,1179.68 L720.8,1179.74 L722.9,1179.5 Q723.7,1179.5 723.8,1181.1 L724,1213.5 L724.6,1213.5 L725.11,1207.04 L725.24,1201.26 L725.39,1196.16 L725.54,1191.74 L725.69,1188 L725.83,1184.94 L725.95,1182.56 L726.05,1180.86 L726.11,1179.84 L726.13,1179.5 Q728.4,1178.16 729.8,1178.43 Q731.8,1179.3 734.3,1179.5 L735.9,1179.34 L737.5,1179.37 L739.6,1179.5 Q740.4,1179.5 740.5,1181.1 L740.7,1210.3 L741.3,1210.3 L741.81,1204.45 L741.93,1199.21 L742.06,1194.59 L742.19,1190.59 L742.32,1187.2 L742.44,1184.43 L742.54,1182.27 L742.62,1180.73 L742.67,1179.81 L742.69,1179.5 Q745.1,1178.23 746.5,1178.49 Q748.5,1179.3 751,1179.5 L752.6,1179.69 L754.2,1179.7 L756.3,1179.5 Q757.1,1179.5 757.2,1181.1 L757.4,1208.1 L758,1208.1 L758.51,1202.67 L758.62,1197.8 L758.73,1193.51 L758.85,1189.8 L758.97,1186.65 L759.07,1184.08 L759.16,1182.07 L759.23,1180.64 L759.27,1179.79 L759.29,1179.5 Q761.8,1178.28 763.2,1178.52 Q765.2,1179.3 767.7,1179.5 L769.3,1179.63 L770.9,1179.42 L773,1179.5 Q773.8,1179.5 773.9,1181.1 L774.1,1206.5 L774.7,1206.5 L775.21,1201.37 L775.31,1196.78 L775.42,1192.73 L775.52,1189.22 L775.63,1186.25 L775.72,1183.82 L775.8,1181.93 L775.86,1180.58 L775.9,1179.77 L775.91,1179.5 Q778.5,1178.32 779.9,1178.55 Q781.9,1179.3 784.4,1179.5 L786,1179.48 L787.6,1179.56 L789.2,1179.5 L790.2,1179.5 Q791,1179.5 791.1,1181.1 L791.3,1206.5 L791.9,1206.5 L792.41,1201.37 L792.51,1196.78 L792.62,1192.73 L792.72,1189.22 L792.83,1186.25 L792.92,1183.82 L793,1181.93 L793.06,1180.58 L793.1,1179.77 L793.12,1179.5 Q795.7,1178.32 797.1,1178.55 Q799.1,1179.3 801.6,1179.5 L803.2,1179.49 L804.8,1179.47 L806.9,1179.5 Q807.7,1179.5 807.8,1181.1 L808,1203.8 L808.6,1203.8 L809.1,1199.18 L809.19,1195.05 L809.28,1191.41 L809.37,1188.25 L809.46,1185.58 L809.54,1183.39 L809.6,1181.69 L809.65,1180.47 L809.68,1179.74 L809.69,1179.5 Q812.4,1178.37 813.8,1178.6 Q815.8,1179.3 818.3,1179.5 L819.9,1179.69 L821.5,1179.34 L823.1,1179.59 L824,1179.5" fill="none" stroke="#5a6d92" stroke-width="1.15" stroke-linejoin="round"/>
<path d="M504.4,1179.5 L504.7,1173 L505,1179.5" fill="none" stroke="#5a6d92" stroke-width="1"/>
</g>
<g>
<line x1="94" y1="1459" x2="94" y2="1692" stroke="#333" stroke-width="1.2"/>
<line x1="86.2" y1="1475" x2="94" y2="1475" stroke="#333" stroke-width="1.2"/>
<text transform="translate(83.9,1478.7) scale(0.87,1)" text-anchor="end" font-size="12.3" font-weight="bold" fill="#111">-0.1</text>
<line x1="86.2" y1="1511.45" x2="94" y2="1511.45" stroke="#333" stroke-width="1.2"/>
<text transform="translate(83.9,1515.15) scale(0.87,1)" text-anchor="end" font-size="12.3" font-weight="bold" fill="#111">-0.2</text>
<line x1="86.2" y1="1547.9" x2="94" y2="1547.9" stroke="#333" stroke-width="1.2"/>
<text transform="translate(83.9,1551.6) scale(0.87,1)" text-anchor="end" font-size="12.3" font-weight="bold" fill="#111">-0.3</text>
<line x1="86.2" y1="1584.35" x2="94" y2="1584.35" stroke="#333" stroke-width="1.2"/>
<text transform="translate(83.9,1588.05) scale(0.87,1)" text-anchor="end" font-size="12.3" font-weight="bold" fill="#111">-0.4</text>
<line x1="86.2" y1="1620.8" x2="94" y2="1620.8" stroke="#333" stroke-width="1.2"/>
<text transform="translate(83.9,1624.5) scale(0.87,1)" text-anchor="end" font-size="12.3" font-weight="bold" fill="#111">-0.5</text>
<line x1="86.2" y1="1657.25" x2="94" y2="1657.25" stroke="#333" stroke-width="1.2"/>
<text transform="translate(83.9,1660.95) scale(0.87,1)" text-anchor="end" font-size="12.3" font-weight="bold" fill="#111">-0.6</text>
<line x1="89" y1="1493.22" x2="94" y2="1493.22" stroke="#333" stroke-width="1.2"/>
<line x1="89" y1="1529.67" x2="94" y2="1529.67" stroke="#333" stroke-width="1.2"/>
<line x1="89" y1="1566.12" x2="94" y2="1566.12" stroke="#333" stroke-width="1.2"/>
<line x1="89" y1="1602.58" x2="94" y2="1602.58" stroke="#333" stroke-width="1.2"/>
<line x1="89" y1="1639.03" x2="94" y2="1639.03" stroke="#333" stroke-width="1.2"/>
<line x1="89" y1="1675.47" x2="94" y2="1675.47" stroke="#333" stroke-width="1.2"/>
<line x1="94" y1="1691.4" x2="425" y2="1691.4" stroke="#444" stroke-width="1.1"/>
<line x1="94" y1="1691.4" x2="94" y2="1697.9" stroke="#444" stroke-width="1.1"/>
<text transform="translate(94,1712.5) scale(0.92,1)" text-anchor="middle" font-size="10.5" font-weight="bold" fill="#111">0</text>
<line x1="122.5" y1="1691.4" x2="122.5" y2="1697.9" stroke="#444" stroke-width="1.1"/>
<text transform="translate(122.5,1712.5) scale(0.92,1)" text-anchor="middle" font-size="10.5" font-weight="bold" fill="#111">0.2</text>
<line x1="151" y1="1691.4" x2="151" y2="1697.9" stroke="#444" stroke-width="1.1"/>
<text transform="translate(151,1712.5) scale(0.92,1)" text-anchor="middle" font-size="10.5" font-weight="bold" fill="#111">0.4</text>
<line x1="179.5" y1="1691.4" x2="179.5" y2="1697.9" stroke="#444" stroke-width="1.1"/>
<text transform="translate(179.5,1712.5) scale(0.92,1)" text-anchor="middle" font-size="10.5" font-weight="bold" fill="#111">0.6</text>
<line x1="208" y1="1691.4" x2="208" y2="1697.9" stroke="#444" stroke-width="1.1"/>
<text transform="translate(208,1712.5) scale(0.92,1)" text-anchor="middle" font-size="10.5" font-weight="bold" fill="#111">0.8</text>
<line x1="236.5" y1="1691.4" x2="236.5" y2="1697.9" stroke="#444" stroke-width="1.1"/>
<text transform="translate(236.5,1712.5) scale(0.92,1)" text-anchor="middle" font-size="10.5" font-weight="bold" fill="#111">1</text>
<line x1="265" y1="1691.4" x2="265" y2="1697.9" stroke="#444" stroke-width="1.1"/>
<text transform="translate(265,1712.5) scale(0.92,1)" text-anchor="middle" font-size="10.5" font-weight="bold" fill="#111">1.2</text>
<line x1="293.5" y1="1691.4" x2="293.5" y2="1697.9" stroke="#444" stroke-width="1.1"/>
<text transform="translate(293.5,1712.5) scale(0.92,1)" text-anchor="middle" font-size="10.5" font-weight="bold" fill="#111">1.4</text>
<line x1="322" y1="1691.4" x2="322" y2="1697.9" stroke="#444" stroke-width="1.1"/>
<text transform="translate(322,1712.5) scale(0.92,1)" text-anchor="middle" font-size="10.5" font-weight="bold" fill="#111">1.6</text>
<line x1="350.5" y1="1691.4" x2="350.5" y2="1697.9" stroke="#444" stroke-width="1.1"/>
<text transform="translate(350.5,1712.5) scale(0.92,1)" text-anchor="middle" font-size="10.5" font-weight="bold" fill="#111">1.8</text>
<line x1="379" y1="1691.4" x2="379" y2="1697.9" stroke="#444" stroke-width="1.1"/>
<text transform="translate(379,1712.5) scale(0.92,1)" text-anchor="middle" font-size="10.5" font-weight="bold" fill="#111">2</text>
<line x1="407.5" y1="1691.4" x2="407.5" y2="1697.9" stroke="#444" stroke-width="1.1"/>
<text transform="translate(407.5,1712.5) scale(0.92,1)" text-anchor="middle" font-size="10.5" font-weight="bold" fill="#111">2.2</text>
<line x1="108.25" y1="1691.4" x2="108.25" y2="1694.9" stroke="#444" stroke-width="1.1"/>
<line x1="136.75" y1="1691.4" x2="136.75" y2="1694.9" stroke="#444" stroke-width="1.1"/>
<line x1="165.25" y1="1691.4" x2="165.25" y2="1694.9" stroke="#444" stroke-width="1.1"/>
<line x1="193.75" y1="1691.4" x2="193.75" y2="1694.9" stroke="#444" stroke-width="1.1"/>
<line x1="222.25" y1="1691.4" x2="222.25" y2="1694.9" stroke="#444" stroke-width="1.1"/>
<line x1="250.75" y1="1691.4" x2="250.75" y2="1694.9" stroke="#444" stroke-width="1.1"/>
<line x1="279.25" y1="1691.4" x2="279.25" y2="1694.9" stroke="#444" stroke-width="1.1"/>
<line x1="307.75" y1="1691.4" x2="307.75" y2="1694.9" stroke="#444" stroke-width="1.1"/>
<line x1="336.25" y1="1691.4" x2="336.25" y2="1694.9" stroke="#444" stroke-width="1.1"/>
<line x1="364.75" y1="1691.4" x2="364.75" y2="1694.9" stroke="#444" stroke-width="1.1"/>
<line x1="393.25" y1="1691.4" x2="393.25" y2="1694.9" stroke="#444" stroke-width="1.1"/>
<line x1="421.75" y1="1691.4" x2="421.75" y2="1694.9" stroke="#444" stroke-width="1.1"/>
<text transform="translate(42,1583.2) rotate(-90)" text-anchor="middle" font-size="17.6" fill="#1a1a1a" textLength="103.5" lengthAdjust="spacingAndGlyphs">ΔH (kcal/mol)</text>
<text x="251.85" y="1733.6" text-anchor="middle" font-size="18.3" fill="#1a1a1a" textLength="90" lengthAdjust="spacingAndGlyphs">Molar Ratio</text>
<path d="M98.3,1681 L113.9,1673.2 C116.65,1671.17 124.92,1665.7 130.4,1661 C135.88,1656.3 141.32,1650.37 146.8,1645 C152.28,1639.63 157.73,1634.2 163.3,1628.8 C168.87,1623.4 174.58,1617.98 180.2,1612.6 C185.82,1607.22 191.37,1601.68 197,1596.5 C202.63,1591.32 208.25,1586.75 214,1581.5 C219.75,1576.25 225.72,1570.57 231.5,1565 C237.28,1559.43 242.87,1553.07 248.7,1548.1 C254.53,1543.13 260.67,1539.15 266.5,1535.2 C272.33,1531.25 277.87,1527.8 283.7,1524.4 C289.53,1521 295.52,1517.83 301.5,1514.8 C307.48,1511.77 313.55,1508.88 319.6,1506.2 C325.65,1503.52 331.72,1501.03 337.8,1498.7 C343.88,1496.37 349.97,1494.53 356.1,1492.2 C362.23,1489.87 368.4,1486.85 374.6,1484.7 C380.8,1482.55 387.12,1480.92 393.3,1479.3 C399.48,1477.68 408.63,1475.72 411.7,1475" fill="none" stroke="#3f6e8e" stroke-width="1.5" stroke-linejoin="round"/>
<circle cx="113.9" cy="1666.3" r="2.6" fill="#4d5a80"/>
<circle cx="130.4" cy="1665.8" r="2.6" fill="#4d5a80"/>
<circle cx="146.6" cy="1649.3" r="2.6" fill="#4d5a80"/>
<circle cx="163.1" cy="1631.9" r="2.6" fill="#4d5a80"/>
<circle cx="180.2" cy="1603.5" r="2.6" fill="#4d5a80"/>
<circle cx="196.9" cy="1591.1" r="2.6" fill="#4d5a80"/>
<circle cx="213.9" cy="1574" r="2.6" fill="#4d5a80"/>
<circle cx="231.5" cy="1571.2" r="2.6" fill="#4d5a80"/>
<circle cx="248.7" cy="1547.4" r="2.6" fill="#4d5a80"/>
<circle cx="266.2" cy="1543.7" r="2.6" fill="#4d5a80"/>
<circle cx="283.8" cy="1528" r="2.6" fill="#4d5a80"/>
<circle cx="301.7" cy="1509.1" r="2.6" fill="#4d5a80"/>
<circle cx="319.8" cy="1500.4" r="2.6" fill="#4d5a80"/>
<circle cx="337.8" cy="1493.7" r="2.6" fill="#4d5a80"/>
<circle cx="356" cy="1495.6" r="2.6" fill="#4d5a80"/>
<circle cx="374.5" cy="1482.3" r="2.6" fill="#4d5a80"/>
<circle cx="393.2" cy="1477.1" r="2.6" fill="#4d5a80"/>
<circle cx="411.7" cy="1475" r="2.6" fill="#4d5a80"/>
</g>
<g>
<line x1="505.6" y1="1463.6" x2="505.6" y2="1692.5" stroke="#555" stroke-width="1.2"/>
<line x1="497.6" y1="1470.7" x2="505.6" y2="1470.7" stroke="#555" stroke-width="1.2"/>
<text transform="translate(495.6,1474.4) scale(0.87,1)" text-anchor="end" font-size="12.3" font-weight="bold" fill="#111">0</text>
<line x1="497.6" y1="1491" x2="505.6" y2="1491" stroke="#555" stroke-width="1.2"/>
<text transform="translate(495.6,1494.7) scale(0.87,1)" text-anchor="end" font-size="12.3" font-weight="bold" fill="#111">-0.2</text>
<line x1="497.6" y1="1511.3" x2="505.6" y2="1511.3" stroke="#555" stroke-width="1.2"/>
<text transform="translate(495.6,1515) scale(0.87,1)" text-anchor="end" font-size="12.3" font-weight="bold" fill="#111">-0.4</text>
<line x1="497.6" y1="1531.6" x2="505.6" y2="1531.6" stroke="#555" stroke-width="1.2"/>
<text transform="translate(495.6,1535.3) scale(0.87,1)" text-anchor="end" font-size="12.3" font-weight="bold" fill="#111">-0.6</text>
<line x1="497.6" y1="1551.9" x2="505.6" y2="1551.9" stroke="#555" stroke-width="1.2"/>
<text transform="translate(495.6,1555.6) scale(0.87,1)" text-anchor="end" font-size="12.3" font-weight="bold" fill="#111">-0.8</text>
<line x1="497.6" y1="1572.2" x2="505.6" y2="1572.2" stroke="#555" stroke-width="1.2"/>
<text transform="translate(495.6,1575.9) scale(0.87,1)" text-anchor="end" font-size="12.3" font-weight="bold" fill="#111">-1</text>
<line x1="497.6" y1="1592.5" x2="505.6" y2="1592.5" stroke="#555" stroke-width="1.2"/>
<text transform="translate(495.6,1596.2) scale(0.87,1)" text-anchor="end" font-size="12.3" font-weight="bold" fill="#111">-1.2</text>
<line x1="497.6" y1="1612.8" x2="505.6" y2="1612.8" stroke="#555" stroke-width="1.2"/>
<text transform="translate(495.6,1616.5) scale(0.87,1)" text-anchor="end" font-size="12.3" font-weight="bold" fill="#111">-1.4</text>
<line x1="497.6" y1="1633.1" x2="505.6" y2="1633.1" stroke="#555" stroke-width="1.2"/>
<text transform="translate(495.6,1636.8) scale(0.87,1)" text-anchor="end" font-size="12.3" font-weight="bold" fill="#111">-1.6</text>
<line x1="497.6" y1="1653.4" x2="505.6" y2="1653.4" stroke="#555" stroke-width="1.2"/>
<text transform="translate(495.6,1657.1) scale(0.87,1)" text-anchor="end" font-size="12.3" font-weight="bold" fill="#111">-1.8</text>
<line x1="497.6" y1="1673.7" x2="505.6" y2="1673.7" stroke="#555" stroke-width="1.2"/>
<text transform="translate(495.6,1677.4) scale(0.87,1)" text-anchor="end" font-size="12.3" font-weight="bold" fill="#111">-2</text>
<line x1="500.8" y1="1480.85" x2="505.6" y2="1480.85" stroke="#555" stroke-width="1.2"/>
<line x1="500.8" y1="1501.15" x2="505.6" y2="1501.15" stroke="#555" stroke-width="1.2"/>
<line x1="500.8" y1="1521.45" x2="505.6" y2="1521.45" stroke="#555" stroke-width="1.2"/>
<line x1="500.8" y1="1541.75" x2="505.6" y2="1541.75" stroke="#555" stroke-width="1.2"/>
<line x1="500.8" y1="1562.05" x2="505.6" y2="1562.05" stroke="#555" stroke-width="1.2"/>
<line x1="500.8" y1="1582.35" x2="505.6" y2="1582.35" stroke="#555" stroke-width="1.2"/>
<line x1="500.8" y1="1602.65" x2="505.6" y2="1602.65" stroke="#555" stroke-width="1.2"/>
<line x1="500.8" y1="1622.95" x2="505.6" y2="1622.95" stroke="#555" stroke-width="1.2"/>
<line x1="500.8" y1="1643.25" x2="505.6" y2="1643.25" stroke="#555" stroke-width="1.2"/>
<line x1="500.8" y1="1663.55" x2="505.6" y2="1663.55" stroke="#555" stroke-width="1.2"/>
<line x1="500.8" y1="1683.85" x2="505.6" y2="1683.85" stroke="#555" stroke-width="1.2"/>
<line x1="505.6" y1="1692" x2="840" y2="1692" stroke="#555" stroke-width="1.1"/>
<line x1="506" y1="1692" x2="506" y2="1698.5" stroke="#555" stroke-width="1.1"/>
<text transform="translate(506,1712.5) scale(0.92,1)" text-anchor="middle" font-size="10.5" font-weight="bold" fill="#111">0</text>
<line x1="534.05" y1="1692" x2="534.05" y2="1698.5" stroke="#555" stroke-width="1.1"/>
<text transform="translate(534.05,1712.5) scale(0.92,1)" text-anchor="middle" font-size="10.5" font-weight="bold" fill="#111">0.2</text>
<line x1="562.1" y1="1692" x2="562.1" y2="1698.5" stroke="#555" stroke-width="1.1"/>
<text transform="translate(562.1,1712.5) scale(0.92,1)" text-anchor="middle" font-size="10.5" font-weight="bold" fill="#111">0.4</text>
<line x1="590.15" y1="1692" x2="590.15" y2="1698.5" stroke="#555" stroke-width="1.1"/>
<text transform="translate(590.15,1712.5) scale(0.92,1)" text-anchor="middle" font-size="10.5" font-weight="bold" fill="#111">0.6</text>
<line x1="618.2" y1="1692" x2="618.2" y2="1698.5" stroke="#555" stroke-width="1.1"/>
<text transform="translate(618.2,1712.5) scale(0.92,1)" text-anchor="middle" font-size="10.5" font-weight="bold" fill="#111">0.8</text>
<line x1="646.25" y1="1692" x2="646.25" y2="1698.5" stroke="#555" stroke-width="1.1"/>
<text transform="translate(646.25,1712.5) scale(0.92,1)" text-anchor="middle" font-size="10.5" font-weight="bold" fill="#111">1</text>
<line x1="674.3" y1="1692" x2="674.3" y2="1698.5" stroke="#555" stroke-width="1.1"/>
<text transform="translate(674.3,1712.5) scale(0.92,1)" text-anchor="middle" font-size="10.5" font-weight="bold" fill="#111">1.2</text>
<line x1="702.35" y1="1692" x2="702.35" y2="1698.5" stroke="#555" stroke-width="1.1"/>
<text transform="translate(702.35,1712.5) scale(0.92,1)" text-anchor="middle" font-size="10.5" font-weight="bold" fill="#111">1.4</text>
<line x1="730.4" y1="1692" x2="730.4" y2="1698.5" stroke="#555" stroke-width="1.1"/>
<text transform="translate(730.4,1712.5) scale(0.92,1)" text-anchor="middle" font-size="10.5" font-weight="bold" fill="#111">1.6</text>
<line x1="758.45" y1="1692" x2="758.45" y2="1698.5" stroke="#555" stroke-width="1.1"/>
<text transform="translate(758.45,1712.5) scale(0.92,1)" text-anchor="middle" font-size="10.5" font-weight="bold" fill="#111">1.8</text>
<line x1="786.5" y1="1692" x2="786.5" y2="1698.5" stroke="#555" stroke-width="1.1"/>
<text transform="translate(786.5,1712.5) scale(0.92,1)" text-anchor="middle" font-size="10.5" font-weight="bold" fill="#111">2</text>
<line x1="814.55" y1="1692" x2="814.55" y2="1698.5" stroke="#555" stroke-width="1.1"/>
<text transform="translate(814.55,1712.5) scale(0.92,1)" text-anchor="middle" font-size="10.5" font-weight="bold" fill="#111">2.2</text>
<line x1="520.02" y1="1692" x2="520.02" y2="1695.5" stroke="#555" stroke-width="1.1"/>
<line x1="548.08" y1="1692" x2="548.08" y2="1695.5" stroke="#555" stroke-width="1.1"/>
<line x1="576.12" y1="1692" x2="576.12" y2="1695.5" stroke="#555" stroke-width="1.1"/>
<line x1="604.17" y1="1692" x2="604.17" y2="1695.5" stroke="#555" stroke-width="1.1"/>
<line x1="632.23" y1="1692" x2="632.23" y2="1695.5" stroke="#555" stroke-width="1.1"/>
<line x1="660.27" y1="1692" x2="660.27" y2="1695.5" stroke="#555" stroke-width="1.1"/>
<line x1="688.33" y1="1692" x2="688.33" y2="1695.5" stroke="#555" stroke-width="1.1"/>
<line x1="716.38" y1="1692" x2="716.38" y2="1695.5" stroke="#555" stroke-width="1.1"/>
<line x1="744.42" y1="1692" x2="744.42" y2="1695.5" stroke="#555" stroke-width="1.1"/>
<line x1="772.48" y1="1692" x2="772.48" y2="1695.5" stroke="#555" stroke-width="1.1"/>
<line x1="800.53" y1="1692" x2="800.53" y2="1695.5" stroke="#555" stroke-width="1.1"/>
<line x1="828.58" y1="1692" x2="828.58" y2="1695.5" stroke="#555" stroke-width="1.1"/>
<text transform="translate(453.3,1583.2) rotate(-90)" text-anchor="middle" font-size="17.6" fill="#1a1a1a" textLength="103.5" lengthAdjust="spacingAndGlyphs">ΔH (kcal/mol)</text>
<text x="663.3" y="1733.8" text-anchor="middle" font-size="18.3" fill="#1a1a1a" textLength="89.7" lengthAdjust="spacingAndGlyphs">Molar Ratio</text>
<path d="M509.8,1681.3 L525.9,1678 C528.52,1677.12 536.22,1675.2 541.6,1672.7 C546.98,1670.2 552.65,1666.93 558.2,1663 C563.75,1659.07 569.32,1655.25 574.9,1649.1 C580.48,1642.95 586.08,1634.42 591.7,1626.1 C597.32,1617.78 602.95,1609.53 608.6,1599.2 C614.25,1588.87 619.9,1574.53 625.6,1564.1 C631.3,1553.67 637.03,1545.12 642.8,1536.6 C648.57,1528.08 654.4,1519.15 660.2,1513 C666,1506.85 671.77,1503.2 677.6,1499.7 C683.43,1496.2 689.3,1494 695.2,1492 C701.1,1490 707.02,1489.28 713,1487.7 C718.98,1486.12 725.12,1483.9 731.1,1482.5 C737.08,1481.1 742.85,1480.45 748.9,1479.3 C754.95,1478.15 761.28,1476.35 767.4,1475.6 C773.52,1474.85 779.45,1474.77 785.6,1474.8 C791.75,1474.83 798.08,1475.88 804.3,1475.8 C810.52,1475.72 819.8,1474.55 822.9,1474.3" fill="none" stroke="#3f6e8e" stroke-width="1.5" stroke-linejoin="round"/>
<circle cx="541.6" cy="1672.7" r="2.6" fill="#4d5a80"/>
<circle cx="558.2" cy="1663" r="2.6" fill="#4d5a80"/>
<circle cx="574.9" cy="1649.1" r="2.6" fill="#4d5a80"/>
<circle cx="591.7" cy="1626.1" r="2.6" fill="#4d5a80"/>
<circle cx="608.6" cy="1599.2" r="2.6" fill="#4d5a80"/>
<circle cx="625.6" cy="1564.1" r="2.6" fill="#4d5a80"/>
<circle cx="642.8" cy="1536.6" r="2.6" fill="#4d5a80"/>
<circle cx="660.2" cy="1513" r="2.6" fill="#4d5a80"/>
<circle cx="677.6" cy="1499.7" r="2.6" fill="#4d5a80"/>
<circle cx="695.2" cy="1492" r="2.6" fill="#4d5a80"/>
<circle cx="713" cy="1487.7" r="2.6" fill="#4d5a80"/>
<circle cx="731.1" cy="1482.5" r="2.6" fill="#4d5a80"/>
<circle cx="748.9" cy="1479.3" r="2.6" fill="#4d5a80"/>
<circle cx="767.4" cy="1475.6" r="2.6" fill="#4d5a80"/>
<circle cx="785.6" cy="1474.8" r="2.6" fill="#4d5a80"/>
<circle cx="804.3" cy="1475.8" r="2.6" fill="#4d5a80"/>
<circle cx="822.9" cy="1474.3" r="2.6" fill="#4d5a80"/>
</g>
<g>
<line x1="41.6" y1="1757.6" x2="41.6" y2="2201.8" stroke="#7a7a7a" stroke-width="1.2"/>
<line x1="36.2" y1="1778.7" x2="41.6" y2="1778.7" stroke="#222" stroke-width="1.2"/>
<text transform="translate(34.9,1782.19) scale(0.88,1)" text-anchor="end" font-size="11.7" font-weight="bold" fill="#111">0</text>
<line x1="36.2" y1="1848" x2="41.6" y2="1848" stroke="#222" stroke-width="1.2"/>
<text transform="translate(34.9,1851.49) scale(0.88,1)" text-anchor="end" font-size="11.7" font-weight="bold" fill="#111">-1</text>
<line x1="36.2" y1="1917.3" x2="41.6" y2="1917.3" stroke="#222" stroke-width="1.2"/>
<text transform="translate(34.9,1920.79) scale(0.88,1)" text-anchor="end" font-size="11.7" font-weight="bold" fill="#111">-2</text>
<line x1="36.2" y1="1986.6" x2="41.6" y2="1986.6" stroke="#222" stroke-width="1.2"/>
<text transform="translate(34.9,1990.09) scale(0.88,1)" text-anchor="end" font-size="11.7" font-weight="bold" fill="#111">-3</text>
<line x1="36.2" y1="2055.9" x2="41.6" y2="2055.9" stroke="#222" stroke-width="1.2"/>
<text transform="translate(34.9,2059.39) scale(0.88,1)" text-anchor="end" font-size="11.7" font-weight="bold" fill="#111">-4</text>
<line x1="36.2" y1="2125.2" x2="41.6" y2="2125.2" stroke="#222" stroke-width="1.2"/>
<text transform="translate(34.9,2128.69) scale(0.88,1)" text-anchor="end" font-size="11.7" font-weight="bold" fill="#111">-5</text>
<line x1="36.2" y1="2194.5" x2="41.6" y2="2194.5" stroke="#222" stroke-width="1.2"/>
<text transform="translate(34.9,2197.99) scale(0.88,1)" text-anchor="end" font-size="11.7" font-weight="bold" fill="#111">-6</text>
<line x1="38.1" y1="1813.35" x2="41.6" y2="1813.35" stroke="#7a7a7a" stroke-width="1.2"/>
<line x1="38.1" y1="1882.65" x2="41.6" y2="1882.65" stroke="#7a7a7a" stroke-width="1.2"/>
<line x1="38.1" y1="1951.95" x2="41.6" y2="1951.95" stroke="#7a7a7a" stroke-width="1.2"/>
<line x1="38.1" y1="2021.25" x2="41.6" y2="2021.25" stroke="#7a7a7a" stroke-width="1.2"/>
<line x1="38.1" y1="2090.55" x2="41.6" y2="2090.55" stroke="#7a7a7a" stroke-width="1.2"/>
<line x1="38.1" y1="2159.85" x2="41.6" y2="2159.85" stroke="#7a7a7a" stroke-width="1.2"/>
<line x1="41.8" y1="2201.3" x2="362" y2="2201.3" stroke="#777" stroke-width="1.2"/>
<rect x="82.3" y="1778.5" width="79.7" height="402.3" fill="#0000f6"/>
<rect x="162" y="1778.5" width="80.3" height="59.9" fill="#4a7d22"/>
<rect x="242.3" y="1778.5" width="80" height="341.5" fill="#d90000"/>
<rect x="373.5" y="1746.9" width="50.2" height="63.5" rx="2" fill="#f6f7f9" stroke="#eceef1" stroke-width="0.8"/>
<rect x="377.8" y="1752.4" width="15.3" height="15.1" fill="#0000f6"/>
<text transform="translate(398.3,1762.25) scale(0.8,1)" font-size="8.5" fill="#85888d">ΔG</text>
<rect x="377.8" y="1771.4" width="15.3" height="15" fill="#4a7d22"/>
<text transform="translate(398.3,1781.2) scale(0.8,1)" font-size="8.5" fill="#85888d">ΔH</text>
<rect x="377.8" y="1790.3" width="15.3" height="15.2" fill="#d90000"/>
<text transform="translate(398.3,1800.2) scale(0.8,1)" font-size="8.5" fill="#85888d">−TΔS</text>
<text transform="translate(13.2,1984.6) rotate(-90)" text-anchor="middle" font-size="15" fill="#1a1a1a">(kcal/mol)</text>
<text x="89.9" y="2270" style='font-family:"Liberation Serif", serif' font-size="34" fill="#111" stroke="#111" stroke-width="0.45">(C)</text>
</g>
<g>
<line x1="478.4" y1="1756.8" x2="478.4" y2="2171.5" stroke="#7a7a7a" stroke-width="1.2"/>
<line x1="473.2" y1="1776.3" x2="478.4" y2="1776.3" stroke="#7a7a7a" stroke-width="1.2"/>
<text transform="translate(471.2,1779.18) scale(0.95,1)" text-anchor="end" font-size="10" font-weight="bold" fill="#111">0</text>
<line x1="473.2" y1="1830.4" x2="478.4" y2="1830.4" stroke="#7a7a7a" stroke-width="1.2"/>
<text transform="translate(471.2,1833.28) scale(0.95,1)" text-anchor="end" font-size="10" font-weight="bold" fill="#111">-1</text>
<line x1="473.2" y1="1884.5" x2="478.4" y2="1884.5" stroke="#7a7a7a" stroke-width="1.2"/>
<text transform="translate(471.2,1887.38) scale(0.95,1)" text-anchor="end" font-size="10" font-weight="bold" fill="#111">-2</text>
<line x1="473.2" y1="1938.6" x2="478.4" y2="1938.6" stroke="#7a7a7a" stroke-width="1.2"/>
<text transform="translate(471.2,1941.48) scale(0.95,1)" text-anchor="end" font-size="10" font-weight="bold" fill="#111">-3</text>
<line x1="473.2" y1="1992.7" x2="478.4" y2="1992.7" stroke="#7a7a7a" stroke-width="1.2"/>
<text transform="translate(471.2,1995.58) scale(0.95,1)" text-anchor="end" font-size="10" font-weight="bold" fill="#111">-4</text>
<line x1="473.2" y1="2046.8" x2="478.4" y2="2046.8" stroke="#7a7a7a" stroke-width="1.2"/>
<text transform="translate(471.2,2049.68) scale(0.95,1)" text-anchor="end" font-size="10" font-weight="bold" fill="#111">-5</text>
<line x1="473.2" y1="2100.9" x2="478.4" y2="2100.9" stroke="#7a7a7a" stroke-width="1.2"/>
<text transform="translate(471.2,2103.78) scale(0.95,1)" text-anchor="end" font-size="10" font-weight="bold" fill="#111">-6</text>
<line x1="473.2" y1="2155" x2="478.4" y2="2155" stroke="#7a7a7a" stroke-width="1.2"/>
<text transform="translate(471.2,2157.88) scale(0.95,1)" text-anchor="end" font-size="10" font-weight="bold" fill="#111">-7</text>
<line x1="474.9" y1="1803.35" x2="478.4" y2="1803.35" stroke="#7a7a7a" stroke-width="1.2"/>
<line x1="474.9" y1="1857.45" x2="478.4" y2="1857.45" stroke="#7a7a7a" stroke-width="1.2"/>
<line x1="474.9" y1="1911.55" x2="478.4" y2="1911.55" stroke="#7a7a7a" stroke-width="1.2"/>
<line x1="474.9" y1="1965.65" x2="478.4" y2="1965.65" stroke="#7a7a7a" stroke-width="1.2"/>
<line x1="474.9" y1="2019.75" x2="478.4" y2="2019.75" stroke="#7a7a7a" stroke-width="1.2"/>
<line x1="474.9" y1="2073.85" x2="478.4" y2="2073.85" stroke="#7a7a7a" stroke-width="1.2"/>
<line x1="474.9" y1="2127.95" x2="478.4" y2="2127.95" stroke="#7a7a7a" stroke-width="1.2"/>
<line x1="478.2" y1="2171" x2="799" y2="2171" stroke="#777" stroke-width="1.2"/>
<rect x="519.2" y="1776" width="79.9" height="375.2" fill="#0000f6"/>
<rect x="599.1" y="1776" width="80" height="118.1" fill="#4a7d22"/>
<rect x="679.1" y="1776" width="79.8" height="256.7" fill="#d90000"/>
<rect x="810.1" y="1746.7" width="49.7" height="59.4" rx="2" fill="#f6f7f9" stroke="#eceef1" stroke-width="0.8"/>
<rect x="814.4" y="1751.8" width="15.3" height="14.3" fill="#0000f6"/>
<text transform="translate(834.8,1761.24) scale(0.8,1)" font-size="8.5" fill="#85888d">ΔG</text>
<rect x="814.4" y="1769.9" width="15.3" height="13.7" fill="#4a7d22"/>
<text transform="translate(834.8,1779.05) scale(0.8,1)" font-size="8.5" fill="#85888d">ΔH</text>
<rect x="814.4" y="1787.6" width="15.3" height="13.7" fill="#d90000"/>
<text transform="translate(834.8,1796.74) scale(0.8,1)" font-size="8.5" fill="#85888d">−TΔS</text>
<text transform="translate(450,1968.5) rotate(-90)" text-anchor="middle" font-size="14" fill="#1a1a1a">(kcal/mol)</text>
<text x="552.2" y="2269.7" style='font-family:"Liberation Serif", serif' font-size="34" fill="#111" stroke="#111" stroke-width="0.45">(D)</text>
</g>
</svg>
</body></html>
